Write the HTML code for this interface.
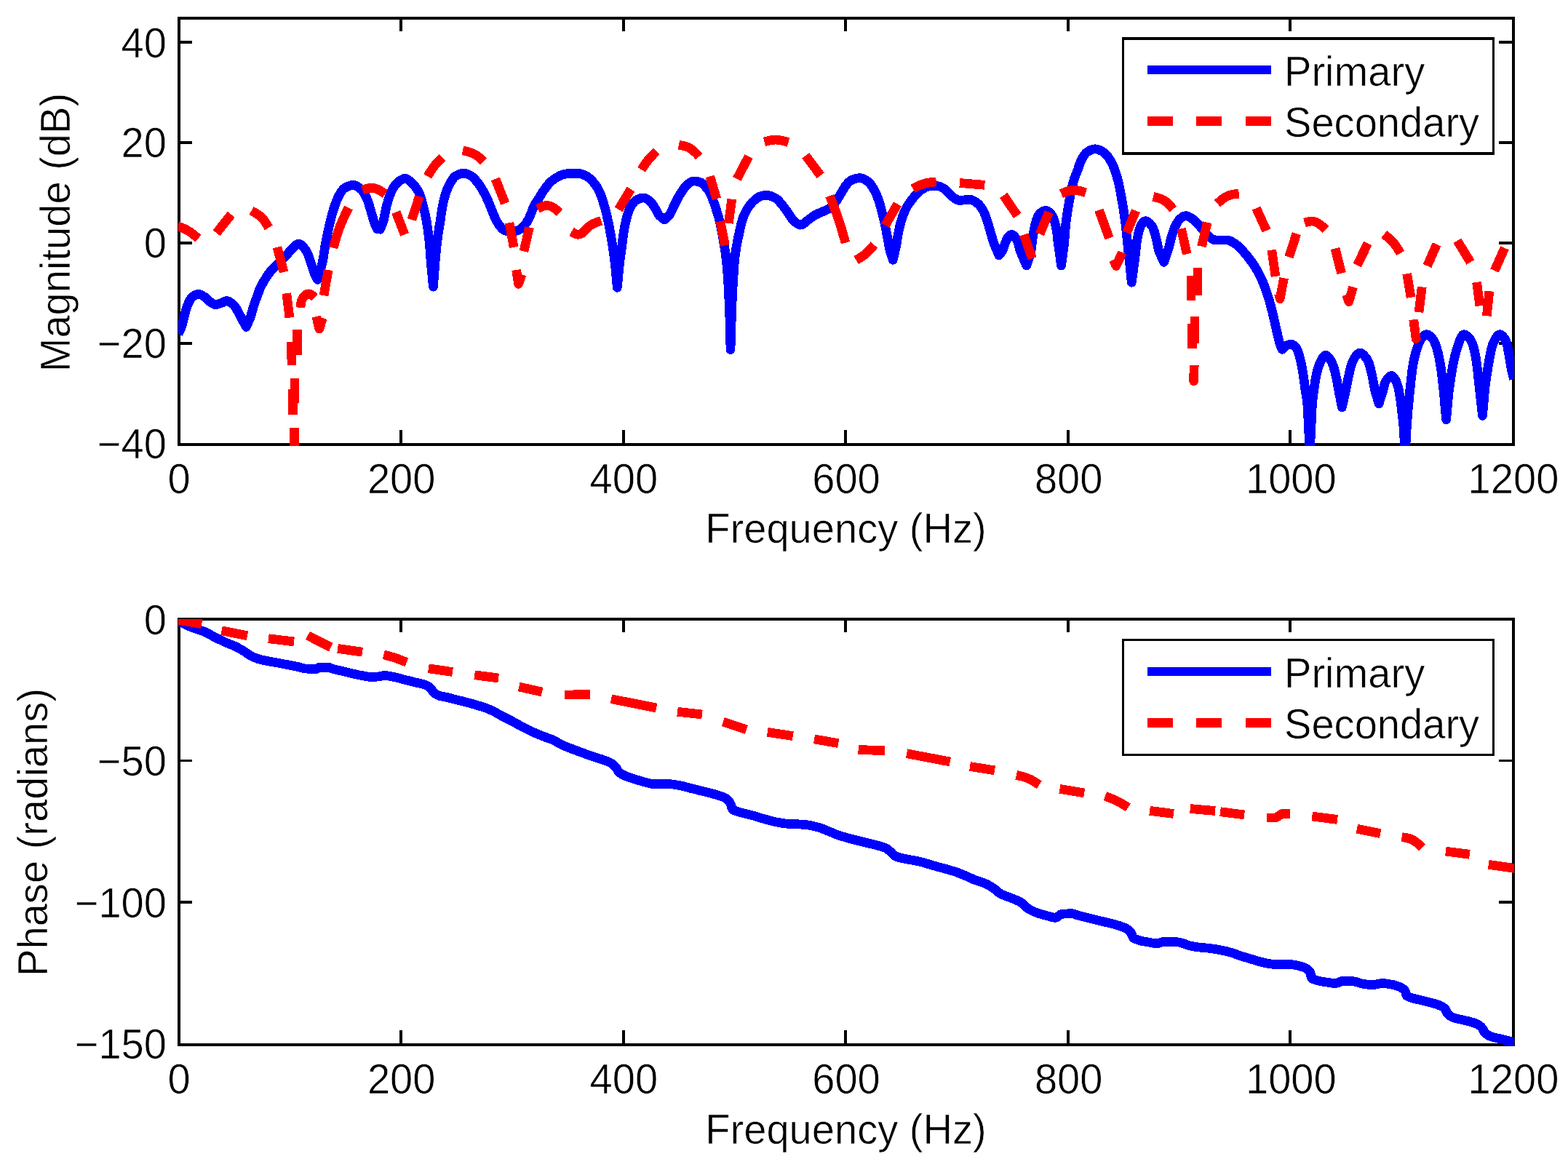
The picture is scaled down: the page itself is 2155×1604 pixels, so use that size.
<!DOCTYPE html>
<html lang="en"><head><meta charset="utf-8"><title>Frequency response: magnitude and phase</title>
<style>
html,body{margin:0;padding:0;background:#fff;}
body{width:2155px;height:1604px;overflow:hidden;}
svg{display:block;}
svg text{stroke:#fff;stroke-width:0.6px;}
</style></head><body>
<svg width="2155" height="1604" viewBox="0 0 2155 1604" font-family="'Liberation Sans', Arial, Helvetica, sans-serif" font-size="56.1" fill="#000">
<rect width="2155" height="1604" fill="#fff"/>
<g id="top">
<g shape-rendering="crispEdges" fill="#000"><rect x="244" y="23" width="4" height="590"/><rect x="2078" y="23" width="4" height="590"/><rect x="244" y="23" width="1838" height="4"/><rect x="244" y="609" width="1838" height="4"/><rect x="549" y="591" width="4" height="20"/><rect x="549" y="25" width="4" height="18"/><rect x="855" y="591" width="4" height="20"/><rect x="855" y="25" width="4" height="18"/><rect x="1160" y="591" width="4" height="20"/><rect x="1160" y="25" width="4" height="18"/><rect x="1466" y="591" width="4" height="20"/><rect x="1466" y="25" width="4" height="18"/><rect x="1771" y="591" width="4" height="20"/><rect x="1771" y="25" width="4" height="18"/><rect x="246" y="56" width="18" height="4"/><rect x="2060" y="56" width="20" height="4"/><rect x="246" y="194" width="18" height="4"/><rect x="2060" y="194" width="20" height="4"/><rect x="246" y="332" width="18" height="4"/><rect x="2060" y="332" width="20" height="4"/><rect x="246" y="470" width="18" height="4"/><rect x="2060" y="470" width="20" height="4"/></g>
<text transform="translate(246.00 678.40) scale(1 1.035)" text-anchor="middle">0</text>
<text transform="translate(551.67 678.40) scale(1 1.035)" text-anchor="middle">200</text>
<text transform="translate(857.33 678.40) scale(1 1.035)" text-anchor="middle">400</text>
<text transform="translate(1163.00 678.40) scale(1 1.035)" text-anchor="middle">600</text>
<text transform="translate(1468.67 678.40) scale(1 1.035)" text-anchor="middle">800</text>
<text transform="translate(1774.33 678.40) scale(1 1.035)" text-anchor="middle">1000</text>
<text transform="translate(2080.00 678.40) scale(1 1.035)" text-anchor="middle">1200</text>
<text transform="translate(229.00 78.50) scale(1 1.035)" text-anchor="end">40</text>
<text transform="translate(229.00 216.40) scale(1 1.035)" text-anchor="end">20</text>
<text transform="translate(229.00 354.30) scale(1 1.035)" text-anchor="end">0</text>
<text transform="translate(229.00 492.20) scale(1 1.035)" text-anchor="end">−20</text>
<text transform="translate(229.00 630.10) scale(1 1.035)" text-anchor="end">−40</text>
<text transform="translate(1162.50 746.20) scale(1 1.035)" text-anchor="middle">Frequency (Hz)</text>
<text transform="translate(95.60 319.60) rotate(-90) scale(1 1.035)" text-anchor="middle">Magnitude (dB)</text>
<clipPath id="c1"><rect x="245" y="24" width="1836" height="589"/></clipPath>
<g clip-path="url(#c1)" fill="none" stroke-linejoin="round" shape-rendering="crispEdges">
<path d="M245 459L245.7 457.7L246.4 456.3L247.1 455L247.8 453.6L248.4 452.2L248.9 450.8L249.5 449.4L249.9 448L250.4 446.6L250.8 445.1L251.1 443.6L251.5 442.2L251.8 440.7L252.2 439.2L252.5 437.7L252.9 436.3L253.2 434.8L253.6 433.3L253.9 431.9L254.3 430.4L254.7 429L255.1 427.5L255.5 426.1L256 424.6L256.5 423.2L256.9 421.7L257.5 420.3L258 418.9L258.6 417.5L259.2 416.2L259.9 414.8L260.6 413.3L261.4 412L262.2 410.6L263.1 409.4L264.1 408.4L265.1 407.5L266.3 406.7L267.7 405.8L269.2 405.1L270.7 404.6L272.1 404.3L273.5 404.4L274.9 404.7L276.3 405.3L277.8 406L279.1 406.9L280.5 407.7L281.7 408.5L282.9 409.4L284 410.4L285.1 411.5L286.1 412.6L287.3 413.7L288.4 414.6L289.7 415.4L290.9 416.3L292.3 417.2L293.7 418L295 418.5L296.4 418.6L297.9 418.4L299.3 418.1L300.8 417.6L302.3 417.1L303.8 416.6L305.2 416.1L306.6 415.4L308 414.7L309.4 414.1L310.8 413.7L312.2 413.7L313.7 414.1L315.1 414.7L316.5 415.5L317.9 416.4L319.1 417.3L320.2 418.2L321.2 419.2L322.2 420.2L323 421.4L323.9 422.7L324.7 424.1L325.5 425.4L326.2 426.8L327 428.2L327.7 429.5L328.5 430.8L329.2 432.2L329.9 433.5L330.6 434.8L331.3 436.2L332 437.5L332.6 438.9L333.3 440.2L334 441.6L334.8 442.9L335.5 444.2L336.2 445.5L336.9 446.9L337.7 448.2L338.4 449.5L339 448.1L339.6 446.7L340.2 445.3L340.8 443.9L341.4 442.6L342 441.2L342.6 439.8L343.2 438.4L343.8 437L344.3 435.6L344.8 434.2L345.2 432.7L345.6 431.3L346 429.8L346.4 428.3L346.8 426.9L347.2 425.4L347.7 424L348.1 422.6L348.5 421.1L349 419.7L349.5 418.2L349.9 416.8L350.4 415.4L350.9 413.9L351.4 412.5L352 411.1L352.5 409.7L353 408.3L353.6 406.9L354.1 405.5L354.6 404L355.1 402.6L355.6 401.2L356.1 399.7L356.6 398.3L357.2 396.9L357.7 395.5L358.4 394.2L359 392.8L359.8 391.5L360.5 390.2L361.3 388.9L362 387.6L362.8 386.3L363.6 385L364.4 383.7L365.2 382.4L366 381.1L366.8 379.8L367.6 378.6L368.5 377.3L369.4 376.1L370.3 374.9L371.2 373.7L372.2 372.6L373.2 371.5L374.2 370.4L375.3 369.3L376.3 368.2L377.4 367.1L378.5 366.1L379.6 365L380.7 363.9L381.7 362.9L382.8 361.8L383.9 360.7L384.9 359.7L386 358.6L387.1 357.5L388.1 356.5L389.2 355.4L390.3 354.3L391.3 353.3L392.4 352.2L393.4 351.1L394.4 350L395.4 348.8L396.4 347.7L397.4 346.5L398.4 345.3L399.4 344.2L400.4 343.1L401.4 342L402.5 341L403.7 339.9L404.9 338.7L406.1 337.6L407.4 336.5L408.6 335.7L409.8 335.3L411 335.3L412.2 335.6L413.5 336.3L414.7 337.3L415.9 338.4L417.1 339.7L418.2 341.1L419.2 342.4L420.1 343.8L420.9 345L421.6 346.2L422.3 347.5L422.9 348.8L423.5 350.2L424 351.6L424.5 353.1L425 354.5L425.5 356L426 357.5L426.5 359L427 360.5L427.4 361.9L428 363.4L428.5 364.8L428.9 366.2L429.4 367.7L429.8 369.1L430.3 370.6L430.8 372L431.2 373.4L431.7 374.9L432.3 376.3L432.8 377.6L433.5 379L434.2 380.3L435 381.6L435.7 383L436.4 384.3L436.8 382.9L437.2 381.4L437.7 380L438.1 378.5L438.5 377.1L438.9 375.7L439.4 374.2L439.8 372.8L440.2 371.3L440.6 369.9L441 368.4L441.5 367L441.9 365.6L442.3 364.1L442.7 362.7L443 361.2L443.4 359.7L443.6 358.3L443.9 356.8L444.2 355.3L444.4 353.9L444.7 352.4L444.9 350.9L445.1 349.4L445.3 347.9L445.6 346.4L445.8 344.9L446 343.5L446.2 342L446.4 340.5L446.7 339L446.9 337.5L447.2 336L447.5 334.6L447.7 333.1L448 331.6L448.3 330.1L448.6 328.7L448.9 327.2L449.2 325.7L449.5 324.2L449.8 322.8L450.1 321.3L450.4 319.8L450.7 318.4L451 316.9L451.4 315.4L451.7 314L452 312.5L452.3 311L452.7 309.6L453 308.1L453.4 306.7L453.7 305.2L454.1 303.7L454.4 302.3L454.8 300.8L455.1 299.4L455.5 297.9L455.9 296.5L456.3 295L456.7 293.6L457.1 292.1L457.5 290.7L458 289.2L458.4 287.8L458.9 286.4L459.4 284.9L459.8 283.5L460.3 282.1L460.9 280.7L461.4 279.3L461.9 277.9L462.5 276.5L463 275.1L463.6 273.7L464.2 272.3L464.8 270.9L465.5 269.5L466.2 268.2L466.9 266.9L467.6 265.6L468.4 264.4L469.3 263.1L470.2 261.8L471.2 260.6L472.3 259.5L473.4 258.7L474.6 258L475.9 257.2L477.3 256.6L478.7 255.9L480.2 255.4L481.7 254.9L483.2 254.6L484.7 254.4L486 254.4L487.5 254.7L488.9 255.2L490.3 255.9L491.7 256.7L493 257.7L494.3 258.6L495.5 259.6L496.5 260.5L497.5 261.5L498.4 262.6L499.3 263.8L500.2 265.1L501 266.5L501.7 267.8L502.4 269.2L503.1 270.6L503.7 272L504.3 273.4L504.9 274.7L505.4 276.1L505.9 277.5L506.4 278.9L506.9 280.4L507.3 281.8L507.7 283.2L508.2 284.7L508.6 286.2L509 287.6L509.4 289.1L509.9 290.5L510.3 292L510.7 293.4L511.2 294.8L511.6 296.3L512 297.7L512.4 299.2L512.8 300.6L513.3 302.1L513.7 303.5L514.1 304.9L514.6 306.4L515.1 307.8L515.7 309.1L516.3 310.5L516.9 311.9L517.6 313.2L518.2 314.6L522.6 315.2L523.1 313.8L523.7 312.4L524.2 311L524.7 309.6L525.3 308.2L525.8 306.8L526.4 305.4L526.9 304L527.3 302.5L527.6 301.1L528 299.6L528.3 298.2L528.6 296.7L528.8 295.2L529.1 293.7L529.4 292.3L529.7 290.8L529.9 289.3L530.2 287.8L530.5 286.3L530.8 284.9L531.2 283.4L531.6 282L532 280.5L532.4 279.1L532.8 277.6L533.2 276.2L533.7 274.7L534.1 273.3L534.6 271.9L535.1 270.5L535.6 269.1L536.2 267.7L536.7 266.3L537.3 264.8L537.9 263.4L538.6 262L539.2 260.7L539.9 259.3L540.6 258L541.4 256.8L542.2 255.6L543.1 254.4L544 253.2L545.1 252.1L546.2 251L547.3 250L548.5 249.1L549.7 248.3L551.1 247.5L552.5 246.7L553.9 246L555.3 245.5L556.7 245.3L558 245.5L559.3 246L560.6 246.8L561.9 247.8L563.1 248.9L564.3 250L565.4 251.1L566.5 252.1L567.6 253.1L568.6 254.2L569.6 255.3L570.6 256.5L571.5 257.8L572.4 259L573.3 260.3L574.1 261.6L574.8 262.9L575.5 264.2L576.1 265.5L576.6 266.8L577.2 268.2L577.7 269.6L578.2 271.1L578.6 272.5L579.1 274L579.5 275.4L579.9 276.9L580.3 278.4L580.7 279.8L581.1 281.3L581.5 282.7L581.8 284.2L582.2 285.6L582.6 287.1L582.9 288.5L583.3 290L583.6 291.5L583.9 292.9L584.2 294.4L584.6 295.9L584.9 297.4L585.2 298.8L585.4 300.3L585.7 301.8L586 303.3L586.3 304.7L586.5 306.2L586.7 307.7L587 309.2L587.2 310.6L587.4 312.1L587.7 313.6L587.9 315.1L588.1 316.6L588.3 318.1L588.5 319.6L588.7 321.1L588.9 322.5L589.1 324L589.2 325.5L589.4 327L589.6 328.5L589.8 330L589.9 331.5L590.1 333L590.2 334.5L590.4 336L590.5 337.5L590.6 339L590.7 340.5L590.9 342L591 343.5L591.1 345L591.2 346.4L591.3 347.9L591.4 349.4L591.5 350.9L591.6 352.4L591.7 353.9L591.9 355.4L592 356.9L592.1 358.4L592.2 359.9L592.3 361.4L592.5 362.9L592.6 364.4L592.7 365.9L592.9 367.4L593 368.9L593.2 370.4L593.3 371.9L593.4 373.4L593.6 374.9L593.7 376.4L593.9 377.9L594 379.4L594.1 380.8L594.3 382.3L594.4 383.8L594.6 385.3L594.7 386.8L594.8 388.3L595 389.8L595.1 391.3L595.3 392.8L595.4 394.3L595.5 392.8L595.6 391.3L595.7 389.8L595.9 388.3L596 386.8L596.1 385.3L596.2 383.8L596.3 382.3L596.4 380.8L596.6 379.3L596.7 377.8L596.8 376.3L596.9 374.8L597 373.3L597.1 371.8L597.3 370.3L597.4 368.8L597.5 367.3L597.6 365.8L597.7 364.3L597.9 362.8L598 361.4L598.1 359.9L598.2 358.4L598.3 356.9L598.5 355.4L598.6 353.9L598.7 352.4L598.8 350.9L599 349.4L599.1 347.9L599.3 346.4L599.4 344.9L599.6 343.4L599.7 341.9L599.9 340.4L600 338.9L600.2 337.4L600.4 335.9L600.5 334.4L600.7 332.9L600.9 331.4L601.1 330L601.3 328.5L601.4 327L601.6 325.5L601.8 324L602 322.5L602.3 321L602.5 319.5L602.7 318.1L603 316.6L603.2 315.1L603.5 313.6L603.7 312.1L603.9 310.6L604.2 309.2L604.4 307.7L604.7 306.2L604.9 304.7L605.2 303.2L605.4 301.7L605.6 300.3L605.8 298.8L606 297.3L606.2 295.8L606.4 294.3L606.7 292.8L606.9 291.3L607.1 289.8L607.3 288.4L607.6 286.9L607.9 285.4L608.1 283.9L608.4 282.5L608.7 281L609 279.5L609.3 278L609.7 276.6L610 275.1L610.4 273.6L610.8 272.2L611.2 270.7L611.6 269.3L612 267.9L612.5 266.4L612.9 265L613.4 263.6L613.9 262.2L614.4 260.8L615 259.3L615.6 257.9L616.2 256.6L616.8 255.2L617.5 253.8L618.2 252.5L618.9 251.2L619.7 249.9L620.5 248.6L621.4 247.2L622.3 245.9L623.2 244.7L624.2 243.5L625.3 242.6L626.4 241.8L627.6 241.1L628.9 240.5L630.3 239.8L631.8 239.3L633.3 238.8L634.9 238.5L636.4 238.2L637.8 238.2L639.3 238.4L640.7 238.7L642.2 239.2L643.7 239.8L645.1 240.5L646.4 241.2L647.6 241.9L648.8 242.7L650 243.6L651.1 244.7L652.1 245.8L653.2 247L654.2 248.2L655.1 249.4L656.1 250.5L657 251.7L657.9 252.9L658.7 254.1L659.6 255.4L660.4 256.7L661.2 257.9L662 259.2L662.8 260.5L663.5 261.8L664.3 263.1L665 264.4L665.7 265.7L666.4 267.1L667.1 268.4L667.8 269.8L668.5 271.1L669.1 272.5L669.7 273.8L670.4 275.2L671 276.6L671.6 277.9L672.2 279.3L672.7 280.7L673.3 282.1L673.8 283.5L674.4 284.9L674.9 286.3L675.5 287.7L676 289.1L676.6 290.5L677.2 291.9L677.7 293.3L678.3 294.7L678.9 296.1L679.5 297.5L680.1 298.8L680.7 300.2L681.3 301.6L682 302.9L682.7 304.2L683.5 305.5L684.3 306.8L685.1 308.1L686 309.3L686.9 310.5L687.8 311.7L688.8 312.8L689.9 314L691 315.1L692.2 316.1L693.4 316.7L694.7 317L696.2 317.4L697.7 317.7L699.2 317.9L700.8 318.1L702.3 318.2L703.8 318.2L705.3 318.1L706.8 317.9L708.3 317.5L709.8 317.2L711.2 316.7L712.6 316.3L713.9 315.6L715.1 314.8L716.4 313.9L717.6 312.8L718.7 311.8L719.8 310.8L720.8 309.7L721.8 308.5L722.7 307.3L723.6 306.1L724.4 304.8L725.1 303.5L725.8 302.2L726.5 300.9L727.2 299.5L727.8 298.1L728.4 296.8L729 295.4L729.6 294L730.2 292.6L730.7 291.2L731.2 289.8L731.8 288.4L732.3 287L732.9 285.6L733.5 284.2L734.2 282.9L734.9 281.6L735.6 280.3L736.4 279L737.3 277.7L738.1 276.5L738.9 275.2L739.7 273.9L740.5 272.7L741.3 271.4L742 270.1L742.8 268.8L743.6 267.5L744.4 266.2L745.2 265L746 263.7L746.9 262.5L747.7 261.2L748.6 260L749.5 258.8L750.4 257.5L751.3 256.3L752.2 255.1L753.1 253.9L754.1 252.8L755.1 251.7L756.1 250.6L757.2 249.6L758.3 248.6L759.5 247.7L760.7 246.8L761.9 245.9L763.2 245L764.5 244.2L765.8 243.5L767.1 242.8L768.4 242.1L769.8 241.4L771.2 240.8L772.6 240.2L774 239.8L775.5 239.5L776.9 239.2L778.4 238.9L779.9 238.7L781.4 238.5L782.9 238.3L784.4 238.2L785.9 238.2L787.4 238.2L788.9 238.2L790.5 238.2L792 238.2L793.5 238.2L794.9 238.2L796.4 238.4L797.9 238.8L799.4 239.2L800.8 239.7L802.3 240.3L803.6 241L805 241.6L806.2 242.2L807.5 243L808.7 243.9L809.9 244.9L811.1 245.9L812.2 247L813.3 248.1L814.3 249.2L815.3 250.3L816.2 251.4L817.2 252.6L818.1 253.8L819 255L819.8 256.3L820.6 257.6L821.4 258.9L822.2 260.2L822.9 261.5L823.5 262.9L824.1 264.2L824.7 265.6L825.3 266.9L825.8 268.3L826.4 269.8L826.9 271.2L827.3 272.6L827.8 274.1L828.3 275.5L828.7 277L829.2 278.4L829.6 279.8L830 281.3L830.4 282.7L830.9 284.1L831.3 285.6L831.7 287L832.1 288.5L832.4 289.9L832.8 291.4L833.2 292.9L833.5 294.3L833.9 295.8L834.2 297.2L834.6 298.7L834.9 300.2L835.2 301.6L835.6 303.1L835.9 304.6L836.2 306L836.5 307.5L836.8 309L837.1 310.5L837.3 311.9L837.6 313.4L837.9 314.9L838.2 316.4L838.5 317.8L838.7 319.3L839 320.8L839.3 322.3L839.5 323.8L839.8 325.2L840 326.7L840.3 328.2L840.5 329.7L840.8 331.2L841 332.6L841.3 334.1L841.5 335.6L841.8 337.1L842 338.6L842.2 340.1L842.4 341.5L842.7 343L842.9 344.5L843.1 346L843.3 347.5L843.5 349L843.7 350.5L843.9 352L844.1 353.4L844.3 354.9L844.5 356.4L844.7 357.9L844.9 359.4L845 360.9L845.2 362.4L845.4 363.9L845.5 365.4L845.7 366.9L845.8 368.4L845.9 369.9L846.1 371.4L846.2 372.9L846.3 374.4L846.5 375.9L846.6 377.4L846.8 378.8L846.9 380.3L847 381.8L847.2 383.3L847.3 384.8L847.5 386.3L847.6 387.8L847.7 389.3L847.9 390.8L848 392.3L848.2 393.8L848.3 395.3L848.4 393.8L848.6 392.3L848.7 390.8L848.9 389.3L849 387.8L849.2 386.3L849.3 384.8L849.5 383.3L849.6 381.8L849.8 380.3L849.9 378.8L850 377.3L850.2 375.8L850.3 374.3L850.5 372.8L850.6 371.3L850.8 369.8L850.9 368.3L851 366.8L851.2 365.3L851.3 363.8L851.5 362.3L851.7 360.8L851.9 359.3L852 357.8L852.2 356.3L852.4 354.8L852.6 353.3L852.8 351.8L853.1 350.3L853.3 348.8L853.5 347.3L853.7 345.8L853.9 344.3L854.1 342.8L854.3 341.3L854.5 339.8L854.7 338.3L854.9 336.8L855.1 335.3L855.3 333.8L855.4 332.3L855.6 330.8L855.8 329.3L856 327.8L856.2 326.3L856.4 324.9L856.6 323.4L856.9 321.9L857.1 320.4L857.3 318.9L857.6 317.4L857.8 315.9L858.1 314.4L858.3 312.9L858.6 311.4L858.9 309.9L859.2 308.5L859.5 307L859.8 305.5L860.1 304L860.5 302.6L860.8 301.1L861.2 299.6L861.6 298.2L862 296.7L862.4 295.3L862.9 293.8L863.3 292.3L863.9 290.9L864.4 289.5L865 288.1L865.6 286.7L866.2 285.3L866.9 284L867.6 282.8L868.4 281.4L869.3 280.1L870.3 278.9L871.3 277.7L872.4 276.6L873.5 275.7L874.7 275L876 274.3L877.4 273.6L878.9 273L880.4 272.5L881.9 272.1L883.3 271.9L884.7 272L886.2 272.3L887.6 272.9L889 273.6L890.4 274.4L891.7 275.4L892.9 276.3L894 277.2L895 278.2L896 279.3L896.9 280.5L897.7 281.8L898.5 283.2L899.3 284.5L900.1 285.9L900.9 287.1L901.7 288.5L902.4 289.9L903 291.2L903.7 292.6L904.5 294L905.3 295.2L906.1 296.3L907.3 297.3L908.5 298.2L909.7 299.2L910.8 300.1L912 301.1L913.2 302L914.3 300.9L915.3 299.9L916.4 298.8L917.5 297.8L918.6 296.7L919.7 295.7L920.6 294.6L921.4 293.3L922.1 292L922.8 290.7L923.4 289.3L924 287.9L924.6 286.5L925.3 285.1L925.9 283.8L926.6 282.4L927.2 281.1L927.9 279.7L928.6 278.3L929.2 277L929.9 275.6L930.6 274.3L931.3 273L932 271.7L932.8 270.4L933.5 269.1L934.3 267.8L935.1 266.5L935.9 265.2L936.7 263.9L937.5 262.7L938.4 261.5L939.2 260.2L940.1 259L941 257.7L942 256.5L942.9 255.3L944 254.2L945 253.3L946.2 252.4L947.4 251.6L948.8 250.7L950.2 250L951.6 249.4L953.1 249.1L954.5 249L956 249.1L957.6 249.3L959.1 249.7L960.6 250L962 250.5L963.3 250.9L964.5 251.6L965.7 252.5L966.9 253.6L968 254.7L969 255.9L970.1 257.1L971 258.3L971.9 259.4L972.8 260.6L973.7 261.8L974.5 263.1L975.3 264.4L976.1 265.8L976.8 267.1L977.4 268.5L978 269.8L978.5 271.2L979 272.6L979.5 274.1L979.9 275.5L980.4 276.9L981 278.3L981.7 279.7L982.3 281.1L982.8 282.5L983.3 283.9L983.7 285.3L984.1 286.8L984.4 288.2L984.8 289.7L985.2 291.2L985.7 292.6L986.1 294L986.6 295.5L987 296.9L987.5 298.3L987.9 299.8L988.3 301.2L988.7 302.7L989 304.1L989.4 305.6L989.7 307.1L990 308.5L990.4 310L990.7 311.5L991 312.9L991.3 314.4L991.6 315.9L991.9 317.4L992.1 318.8L992.4 320.3L992.7 321.8L992.9 323.3L993.2 324.7L993.5 326.2L993.7 327.7L994 329.2L994.2 330.7L994.5 332.2L994.7 333.6L995 335.1L995.2 336.6L995.5 338.1L995.7 339.6L996 341.1L996.2 342.5L996.4 344L996.7 345.5L996.9 347L997.1 348.5L997.3 350L997.5 351.5L997.7 352.9L997.9 354.4L998.1 355.9L998.3 357.4L998.4 358.9L998.6 360.4L998.7 361.9L998.9 363.4L999 364.9L999.1 366.4L999.3 367.9L999.4 369.4L999.5 370.9L999.6 372.4L999.7 373.9L999.8 375.4L999.9 376.9L1000 378.4L1000.1 379.9L1000.2 381.4L1000.3 382.9L1000.4 384.4L1000.5 385.9L1000.6 387.4L1000.7 388.9L1000.8 390.4L1000.9 391.9L1000.9 393.4L1001 394.9L1001.1 396.4L1001.2 397.9L1001.3 399.4L1001.3 400.9L1001.4 402.4L1001.5 403.9L1001.6 405.4L1001.6 406.9L1001.7 408.4L1001.8 409.9L1001.9 411.4L1001.9 412.9L1002 414.4L1002.1 415.9L1002.1 417.4L1002.2 418.9L1002.3 420.4L1002.3 421.9L1002.4 423.4L1002.4 424.9L1002.5 426.4L1002.6 427.9L1002.6 429.4L1002.7 430.9L1002.7 432.4L1002.8 433.9L1002.8 435.4L1002.9 436.9L1002.9 438.4L1003 439.9L1003 441.4L1003.1 442.9L1003.1 444.4L1003.2 445.9L1003.2 447.4L1003.3 448.9L1003.3 450.5L1003.3 452L1003.4 453.5L1003.4 455L1003.5 456.5L1003.5 458L1003.5 459.5L1003.6 461L1003.6 462.5L1003.6 464L1003.7 465.5L1003.7 467L1003.7 468.5L1003.8 470L1003.8 471.5L1003.8 473L1003.9 474.5L1003.9 476L1003.9 477.5L1004 479L1004 480.5L1004 479L1004.1 477.5L1004.1 476L1004.2 474.5L1004.2 473L1004.3 471.5L1004.3 470L1004.4 468.5L1004.4 467L1004.5 465.5L1004.5 464L1004.6 462.5L1004.6 461L1004.7 459.5L1004.7 458L1004.8 456.5L1004.8 455L1004.9 453.5L1004.9 452L1004.9 450.5L1005 448.9L1005 447.4L1005.1 445.9L1005.1 444.4L1005.1 442.9L1005.2 441.4L1005.2 439.9L1005.3 438.4L1005.3 436.9L1005.4 435.4L1005.4 433.9L1005.5 432.4L1005.5 430.9L1005.6 429.4L1005.6 427.9L1005.7 426.4L1005.7 424.9L1005.8 423.4L1005.8 421.9L1005.9 420.4L1006 418.9L1006 417.4L1006.1 415.9L1006.1 414.4L1006.2 412.9L1006.3 411.4L1006.3 409.9L1006.4 408.4L1006.5 406.9L1006.5 405.4L1006.6 403.9L1006.7 402.4L1006.8 400.9L1006.8 399.4L1006.9 397.9L1007 396.4L1007.1 394.9L1007.2 393.4L1007.2 391.9L1007.3 390.4L1007.4 388.9L1007.5 387.4L1007.6 385.9L1007.7 384.4L1007.8 382.9L1007.9 381.4L1008 379.9L1008.1 378.4L1008.2 376.9L1008.3 375.4L1008.4 373.9L1008.5 372.4L1008.6 370.9L1008.7 369.4L1008.8 367.9L1008.9 366.4L1009 364.9L1009.1 363.4L1009.3 361.9L1009.4 360.4L1009.5 358.9L1009.7 357.4L1009.8 355.9L1009.9 354.4L1010.1 352.9L1010.3 351.4L1010.4 349.9L1010.6 348.4L1010.8 346.9L1011.1 345.5L1011.3 344L1011.5 342.5L1011.8 341L1012 339.5L1012.3 338L1012.6 336.6L1012.9 335.1L1013.1 333.6L1013.4 332.1L1013.7 330.6L1014 329.2L1014.3 327.7L1014.6 326.2L1014.9 324.7L1015.3 323.3L1015.6 321.8L1015.9 320.3L1016.2 318.9L1016.5 317.4L1016.8 315.9L1017.1 314.4L1017.5 312.9L1017.8 311.5L1018.1 310L1018.5 308.5L1018.9 307.1L1019.3 305.6L1019.7 304.2L1020.1 302.8L1020.6 301.3L1021 299.9L1021.5 298.5L1022.1 297.1L1022.7 295.7L1023.3 294.4L1023.9 293L1024.6 291.6L1025.3 290.3L1026.1 289L1026.8 287.6L1027.6 286.4L1028.4 285.1L1029.2 283.9L1030.1 282.7L1031 281.5L1032 280.3L1033 279.1L1034 278L1035.1 276.9L1036.1 275.9L1037.2 274.9L1038.4 273.9L1039.6 273L1040.9 272L1042.1 271.2L1043.4 270.5L1044.8 269.9L1046.2 269.5L1047.6 269L1049.1 268.7L1050.6 268.4L1052.1 268.2L1053.6 268.2L1055.1 268.4L1056.6 268.6L1058.1 269L1059.6 269.5L1061 270.1L1062.5 270.7L1063.8 271.3L1065.1 271.9L1066.3 272.6L1067.5 273.5L1068.6 274.4L1069.7 275.5L1070.7 276.6L1071.8 277.8L1072.8 279L1073.8 280.2L1074.8 281.4L1075.7 282.5L1076.7 283.7L1077.6 284.9L1078.5 286.1L1079.4 287.3L1080.2 288.5L1081.1 289.8L1082 291L1082.9 292.2L1083.7 293.4L1084.6 294.7L1085.4 296L1086.2 297.3L1087.1 298.6L1087.9 299.8L1088.8 301L1089.8 302.1L1090.8 303.2L1091.9 304.2L1093.1 305.3L1094.4 306.4L1095.7 307.4L1097 308.2L1098.4 308.8L1099.7 309.2L1100.9 309.1L1102.2 308.8L1103.5 308.1L1104.8 307.2L1106 306.2L1107.3 305.1L1108.6 304.1L1109.8 303.1L1111 302.2L1112.2 301.3L1113.4 300.4L1114.6 299.4L1115.8 298.5L1117 297.6L1118.2 296.8L1119.5 296L1120.8 295.3L1122.2 294.6L1123.5 294L1124.9 293.4L1126.3 292.7L1127.6 292.1L1129 291.5L1130.4 291L1131.8 290.4L1133.2 289.8L1134.6 289.2L1135.9 288.5L1137.3 287.8L1138.6 287.1L1139.9 286.3L1141.2 285.5L1142.4 284.6L1143.4 283.7L1144.5 282.6L1145.5 281.5L1146.4 280.3L1147.3 279.1L1148.2 277.8L1149.1 276.6L1150 275.4L1150.8 274.1L1151.6 272.9L1152.4 271.6L1153.2 270.3L1154 269L1154.8 267.7L1155.5 266.4L1156.3 265.1L1157.1 263.8L1157.9 262.5L1158.6 261.2L1159.4 259.9L1160.1 258.6L1160.9 257.3L1161.7 256L1162.6 254.8L1163.5 253.7L1164.5 252.5L1165.5 251.4L1166.6 250.2L1167.8 249.2L1169 248.3L1170.2 247.6L1171.5 247L1172.9 246.5L1174.4 246L1175.9 245.6L1177.4 245.2L1178.9 244.9L1180.4 244.8L1181.8 244.7L1183.3 244.8L1184.8 245.2L1186.2 245.7L1187.7 246.4L1189.1 247.1L1190.4 247.9L1191.7 248.8L1192.9 249.6L1193.9 250.4L1195 251.4L1196 252.6L1196.9 253.8L1197.8 255L1198.7 256.4L1199.5 257.7L1200.3 259L1201 260.4L1201.8 261.6L1202.5 263L1203.1 264.3L1203.8 265.7L1204.4 267.1L1205 268.5L1205.6 269.9L1206.1 271.3L1206.6 272.7L1207.1 274.1L1207.6 275.5L1208.1 276.9L1208.5 278.4L1209 279.8L1209.4 281.2L1209.8 282.7L1210.2 284.1L1210.6 285.6L1211 287.1L1211.4 288.5L1211.8 290L1212.2 291.4L1212.5 292.9L1212.9 294.3L1213.3 295.8L1213.6 297.2L1214 298.7L1214.4 300.2L1214.7 301.6L1215 303.1L1215.4 304.6L1215.7 306L1216 307.5L1216.3 309L1216.6 310.4L1216.9 311.9L1217.2 313.4L1217.5 314.9L1217.8 316.3L1218 317.8L1218.3 319.3L1218.6 320.8L1218.9 322.2L1219.2 323.7L1219.5 325.2L1219.8 326.7L1220 328.1L1220.3 329.6L1220.6 331.1L1220.9 332.6L1221.1 334.1L1221.4 335.6L1221.7 337L1221.9 338.5L1222.2 340L1222.5 341.5L1222.9 342.9L1223.2 344.4L1223.6 345.8L1224 347.3L1224.4 348.7L1224.9 350.1L1225.4 351.6L1225.8 353L1226.3 354.4L1226.7 355.9L1227.2 357.3L1227.5 355.8L1227.9 354.4L1228.2 352.9L1228.6 351.4L1228.9 350L1229.3 348.5L1229.6 347L1229.9 345.6L1230.3 344.1L1230.6 342.7L1231 341.2L1231.3 339.7L1231.6 338.3L1231.9 336.8L1232.1 335.3L1232.4 333.8L1232.6 332.3L1232.9 330.8L1233.1 329.4L1233.3 327.9L1233.6 326.4L1233.8 324.9L1234.1 323.4L1234.3 321.9L1234.6 320.5L1234.9 319L1235.2 317.5L1235.5 316L1235.8 314.6L1236.1 313.1L1236.5 311.6L1236.8 310.2L1237.2 308.7L1237.6 307.2L1238 305.8L1238.4 304.3L1238.8 302.9L1239.2 301.5L1239.7 300L1240.1 298.6L1240.6 297.2L1241.2 295.8L1241.7 294.4L1242.3 293L1242.9 291.6L1243.5 290.2L1244.1 288.8L1244.8 287.5L1245.4 286.2L1246.2 284.8L1246.9 283.5L1247.7 282.2L1248.5 281L1249.3 279.7L1250.2 278.5L1251.1 277.2L1251.9 276L1252.8 274.8L1253.8 273.6L1254.7 272.4L1255.7 271.3L1256.7 270.1L1257.7 269L1258.7 267.9L1259.7 266.8L1260.8 265.8L1261.9 264.7L1263 263.7L1264.1 262.7L1265.3 261.7L1266.5 260.8L1267.7 259.9L1269 259.2L1270.3 258.5L1271.7 257.7L1273.1 257.1L1274.5 256.5L1275.9 256.1L1277.4 255.8L1278.8 255.7L1280.3 255.5L1281.9 255.4L1283.4 255.3L1284.9 255.2L1286.4 255.2L1287.8 255.4L1289.3 255.8L1290.8 256.2L1292.3 256.7L1293.7 257.3L1295.1 257.9L1296.4 258.6L1297.6 259.2L1298.8 260.1L1299.9 261.1L1301 262.2L1302.1 263.3L1303.1 264.4L1304.2 265.6L1305.3 266.6L1306.4 267.7L1307.5 268.8L1308.6 269.8L1309.7 270.9L1310.8 271.8L1312 272.7L1313.3 273.4L1314.7 274.2L1316.1 274.9L1317.5 275.4L1318.9 275.5L1320.4 275.4L1321.9 275.3L1323.4 275.1L1324.9 274.9L1326.5 274.7L1328 274.5L1329.5 274.3L1331 274.2L1332.4 274.2L1333.8 274.3L1335.3 274.7L1336.7 275.3L1338.2 276L1339.6 276.8L1340.9 277.7L1342.1 278.6L1343.3 279.4L1344.4 280.3L1345.4 281.3L1346.4 282.4L1347.4 283.6L1348.3 284.9L1349.2 286.2L1350.1 287.5L1350.8 288.8L1351.6 290.1L1352.2 291.5L1352.8 292.8L1353.4 294.2L1354 295.6L1354.5 297L1355 298.4L1355.5 299.8L1355.9 301.3L1356.4 302.7L1356.9 304.2L1357.3 305.6L1357.8 307.1L1358.2 308.5L1358.7 309.9L1359.1 311.4L1359.5 312.8L1359.9 314.3L1360.4 315.7L1360.8 317.2L1361.2 318.6L1361.6 320L1362 321.5L1362.5 322.9L1362.9 324.4L1363.3 325.8L1363.7 327.3L1364.1 328.7L1364.5 330.2L1365 331.6L1365.5 333L1366 334.4L1366.5 335.8L1367.1 337.2L1367.7 338.6L1368.3 340L1368.9 341.4L1369.4 342.8L1370 344.2L1370.6 345.5L1371.2 346.9L1371.7 348.3L1372.3 349.7L1372.9 351.1L1373.8 349.9L1374.8 348.7L1375.7 347.5L1376.7 346.3L1377.4 345L1378.1 343.7L1378.7 342.3L1379.2 340.8L1379.8 339.4L1380.3 337.9L1380.8 336.5L1381.3 335L1381.8 333.6L1382.4 332.2L1383 330.7L1383.6 329.2L1384.2 327.7L1384.9 326.4L1385.7 325.3L1386.8 324.2L1388.3 323.2L1389.7 322.5L1390.9 322.4L1392 322.9L1393.2 323.7L1394.3 324.9L1395.3 326.3L1396.3 327.9L1397.1 329.4L1397.9 330.9L1398.5 332.2L1399 333.6L1399.5 335L1399.9 336.5L1400.3 338L1400.7 339.5L1401.1 341L1401.5 342.5L1401.9 344L1402.4 345.4L1402.9 346.9L1403.5 348.3L1404.2 349.7L1404.8 351.1L1405.4 352.5L1406 353.9L1406.6 355.3L1407.2 356.7L1407.8 358.1L1408.4 359.5L1409 360.9L1409.6 362.3L1410.2 363.7L1410.8 365.1L1411.3 363.7L1411.8 362.2L1412.2 360.8L1412.7 359.4L1413.2 357.9L1413.7 356.5L1414.1 355.1L1414.6 353.6L1415.1 352.2L1415.7 350.8L1416.1 349.3L1416.5 347.9L1416.8 346.4L1417 344.9L1417.2 343.5L1417.4 342L1417.6 340.5L1417.8 339L1418 337.5L1418.1 335.9L1418.3 334.4L1418.5 332.9L1418.6 331.4L1418.8 329.9L1419 328.4L1419.3 326.9L1419.5 325.4L1419.7 323.9L1420 322.4L1420.2 320.9L1420.5 319.4L1420.8 317.9L1421 316.4L1421.3 314.9L1421.6 313.5L1421.9 312L1422.3 310.5L1422.6 309.1L1423 307.6L1423.4 306.2L1423.8 304.7L1424.3 303.2L1424.8 301.6L1425.4 300.1L1426 298.6L1426.6 297.2L1427.3 295.9L1428.1 294.7L1428.9 293.7L1429.9 292.8L1431.1 291.9L1432.6 291L1434.1 290.2L1435.6 289.7L1437 289.4L1438.3 289.5L1439.6 290L1440.9 290.8L1442.2 291.9L1443.4 293.1L1444.5 294.4L1445.4 295.7L1446.2 296.8L1446.8 298.1L1447.5 299.4L1448 300.7L1448.6 302.1L1449.1 303.6L1449.6 305.1L1450 306.6L1450.4 308.2L1450.8 309.7L1451.1 311.2L1451.4 312.7L1451.7 314.2L1451.9 315.6L1452.2 317.1L1452.4 318.6L1452.6 320.1L1452.8 321.6L1453 323.1L1453.2 324.6L1453.3 326.1L1453.5 327.6L1453.7 329.1L1453.8 330.7L1454 332.2L1454.2 333.7L1454.4 335.2L1454.6 336.7L1454.8 338.2L1455 339.7L1455.2 341.1L1455.4 342.6L1455.6 344.1L1455.8 345.6L1456.1 347.1L1456.3 348.6L1456.5 350.1L1456.7 351.6L1456.9 353.1L1457.1 354.6L1457.3 356.1L1457.5 357.6L1457.7 359.1L1457.9 360.6L1458.1 362.1L1458.3 363.6L1458.5 365.1L1458.7 363.6L1458.9 362.1L1459.1 360.6L1459.3 359.1L1459.5 357.6L1459.7 356.2L1460 354.7L1460.2 353.2L1460.4 351.7L1460.6 350.2L1460.8 348.7L1461 347.2L1461.2 345.7L1461.4 344.2L1461.7 342.7L1461.9 341.2L1462 339.8L1462.2 338.3L1462.4 336.8L1462.5 335.3L1462.6 333.8L1462.8 332.3L1462.9 330.8L1463 329.3L1463.1 327.8L1463.3 326.3L1463.4 324.8L1463.5 323.3L1463.6 321.8L1463.7 320.3L1463.8 318.7L1463.9 317.2L1464.1 315.7L1464.2 314.2L1464.3 312.7L1464.5 311.3L1464.6 309.8L1464.8 308.3L1465 306.8L1465.1 305.3L1465.3 303.8L1465.5 302.3L1465.7 300.8L1465.9 299.3L1466.1 297.8L1466.3 296.3L1466.6 294.8L1466.8 293.3L1467 291.8L1467.2 290.4L1467.5 288.9L1467.7 287.4L1467.9 285.9L1468.2 284.4L1468.4 282.9L1468.7 281.4L1468.9 280L1469.2 278.5L1469.5 277L1469.7 275.5L1470 274L1470.3 272.6L1470.6 271.1L1470.8 269.6L1471.1 268.1L1471.4 266.6L1471.7 265.1L1472 263.7L1472.3 262.2L1472.6 260.7L1472.9 259.2L1473.3 257.8L1473.6 256.3L1473.9 254.8L1474.3 253.4L1474.7 251.9L1475 250.5L1475.4 249L1475.9 247.6L1476.3 246.1L1476.8 244.7L1477.3 243.3L1477.8 241.9L1478.4 240.5L1479 239.1L1479.6 237.7L1480.1 236.3L1480.7 234.9L1481.2 233.5L1481.7 232.1L1482.2 230.6L1482.6 229.2L1483.1 227.7L1483.6 226.3L1484.1 224.9L1484.6 223.5L1485.2 222.1L1485.8 220.8L1486.5 219.4L1487.2 218L1488 216.6L1488.8 215.2L1489.6 213.9L1490.5 212.6L1491.5 211.5L1492.5 210.4L1493.5 209.5L1494.6 208.7L1495.9 207.9L1497.2 207.2L1498.6 206.4L1500.1 205.8L1501.6 205.3L1503.1 205L1504.6 204.8L1506 204.9L1507.5 205.1L1508.9 205.5L1510.4 206L1511.9 206.7L1513.3 207.3L1514.7 208L1515.9 208.8L1517.1 209.5L1518.2 210.4L1519.3 211.5L1520.4 212.6L1521.4 213.8L1522.4 215L1523.3 216.3L1524.2 217.5L1525 218.8L1525.8 220L1526.5 221.3L1527.2 222.6L1527.9 224L1528.6 225.4L1529.2 226.7L1529.9 228.1L1530.5 229.5L1531 230.9L1531.6 232.3L1532.1 233.7L1532.6 235.1L1533.1 236.6L1533.6 238L1534 239.4L1534.5 240.9L1534.9 242.3L1535.3 243.8L1535.7 245.2L1536.1 246.7L1536.5 248.1L1536.9 249.6L1537.2 251.1L1537.6 252.5L1537.9 254L1538.2 255.5L1538.5 256.9L1538.8 258.4L1539.1 259.9L1539.4 261.4L1539.7 262.8L1540 264.3L1540.2 265.8L1540.5 267.3L1540.8 268.8L1541 270.3L1541.3 271.7L1541.6 273.2L1541.8 274.7L1542.1 276.2L1542.4 277.7L1542.6 279.2L1542.9 280.6L1543.1 282.1L1543.4 283.6L1543.6 285.1L1543.8 286.6L1544.1 288.1L1544.3 289.6L1544.5 291L1544.7 292.5L1545 294L1545.2 295.5L1545.4 297L1545.6 298.5L1545.8 300L1546 301.5L1546.2 303L1546.4 304.5L1546.6 306L1546.8 307.5L1547 308.9L1547.2 310.4L1547.4 311.9L1547.5 313.4L1547.7 314.9L1547.9 316.4L1548 317.9L1548.2 319.4L1548.3 320.9L1548.5 322.4L1548.6 323.9L1548.7 325.4L1548.9 326.9L1549 328.4L1549.2 329.9L1549.3 331.4L1549.5 332.9L1549.6 334.4L1549.8 335.9L1549.9 337.4L1550.1 338.9L1550.2 340.4L1550.4 341.9L1550.5 343.4L1550.7 344.9L1550.9 346.4L1551 347.9L1551.2 349.4L1551.3 350.9L1551.5 352.4L1551.6 353.9L1551.8 355.4L1552 356.9L1552.1 358.4L1552.3 359.9L1552.4 361.4L1552.6 362.8L1552.8 364.3L1552.9 365.8L1553.1 367.3L1553.2 368.8L1553.4 370.3L1553.6 371.8L1553.7 373.3L1553.9 374.8L1554 376.3L1554.2 377.8L1554.3 379.3L1554.5 380.8L1554.7 382.3L1554.8 383.8L1555 385.3L1555.1 386.8L1555.3 388.3L1555.5 386.8L1555.7 385.3L1555.9 383.8L1556.1 382.3L1556.3 380.8L1556.5 379.3L1556.7 377.8L1556.9 376.3L1557.1 374.9L1557.3 373.4L1557.5 371.9L1557.7 370.4L1557.9 368.9L1558.1 367.4L1558.3 365.9L1558.5 364.4L1558.7 362.9L1558.9 361.4L1559.1 359.9L1559.3 358.4L1559.5 356.9L1559.7 355.4L1559.9 353.9L1560.1 352.4L1560.2 350.9L1560.4 349.4L1560.6 347.9L1560.7 346.4L1560.9 344.9L1561.1 343.4L1561.2 341.9L1561.4 340.4L1561.6 338.9L1561.7 337.4L1561.9 335.9L1562.1 334.4L1562.3 332.9L1562.6 331.5L1562.8 330L1563 328.5L1563.3 327L1563.6 325.5L1563.9 324L1564.2 322.5L1564.5 320.9L1564.9 319.4L1565.2 317.9L1565.6 316.4L1566.1 314.9L1566.6 313.5L1567.1 312.2L1567.6 310.9L1568.2 309.6L1569 308.3L1570 306.9L1571.2 305.5L1572.4 304.4L1573.6 303.8L1574.7 303.6L1575.9 303.9L1577.2 304.6L1578.5 305.6L1579.8 306.7L1581 308L1582.1 309.3L1583 310.6L1583.8 311.8L1584.4 313L1585 314.3L1585.5 315.6L1586 317.1L1586.5 318.5L1586.9 320L1587.4 321.5L1587.8 323.1L1588.2 324.6L1588.5 326.1L1588.9 327.6L1589.3 329L1589.7 330.5L1590 332L1590.3 333.5L1590.6 334.9L1590.9 336.4L1591.2 337.9L1591.5 339.4L1591.8 340.9L1592.2 342.4L1592.5 343.8L1592.9 345.2L1593.4 346.7L1594 348L1594.6 349.4L1595.3 350.8L1595.9 352.2L1596.5 353.5L1597.1 354.9L1597.7 356.3L1598.4 357.7L1599 359L1599.6 360.4L1600.1 359L1600.6 357.6L1601.1 356.1L1601.6 354.7L1602.1 353.3L1602.5 351.9L1603 350.5L1603.5 349.1L1604 347.6L1604.5 346.2L1605 344.8L1605.5 343.4L1606 342L1606.4 340.5L1606.8 339.1L1607.1 337.6L1607.5 336.2L1607.8 334.7L1608.1 333.2L1608.5 331.8L1608.8 330.3L1609.2 328.8L1609.5 327.4L1609.9 325.9L1610.4 324.5L1610.8 323.1L1611.2 321.6L1611.7 320.2L1612.2 318.7L1612.7 317.3L1613.2 315.9L1613.7 314.5L1614.3 313.1L1614.8 311.7L1615.5 310.4L1616.1 309.1L1616.8 307.7L1617.6 306.4L1618.5 305L1619.3 303.7L1620.3 302.5L1621.3 301.4L1622.3 300.4L1623.4 299.6L1624.7 298.7L1626 297.8L1627.5 297.1L1628.9 296.7L1630.3 296.6L1631.6 296.9L1633 297.4L1634.4 298.1L1635.8 298.9L1637.1 299.8L1638.4 300.7L1639.6 301.5L1640.8 302.4L1641.9 303.4L1643 304.4L1644.1 305.5L1645.1 306.6L1646.1 307.8L1647.1 308.9L1648.1 310L1649.1 311.1L1650.1 312.3L1651.1 313.4L1652 314.6L1653 315.8L1653.9 316.9L1654.9 318.1L1655.9 319.2L1656.9 320.3L1657.9 321.5L1658.9 322.6L1659.9 323.8L1661 324.8L1662.1 325.8L1663.2 326.7L1664.5 327.5L1665.8 328.3L1667.2 329.1L1668.6 329.6L1670.1 329.9L1671.5 329.9L1673 329.9L1674.5 329.9L1676 329.9L1677.5 329.9L1679.1 329.9L1680.6 329.9L1682.1 329.9L1683.6 329.9L1685.1 329.9L1686.5 329.9L1688 330.2L1689.4 330.6L1690.9 331.2L1692.3 331.9L1693.6 332.6L1694.9 333.4L1696.2 334.1L1697.4 334.9L1698.6 335.8L1699.8 336.7L1700.9 337.7L1702 338.8L1703.1 339.9L1704.2 340.9L1705.3 342L1706.3 343.1L1707.4 344.1L1708.4 345.2L1709.4 346.3L1710.4 347.5L1711.4 348.6L1712.4 349.8L1713.3 350.9L1714.3 352.1L1715.2 353.3L1716.1 354.4L1717 355.6L1717.9 356.8L1718.8 358.1L1719.7 359.3L1720.6 360.5L1721.4 361.7L1722.3 363L1723.1 364.2L1723.9 365.5L1724.7 366.8L1725.5 368L1726.3 369.3L1727 370.6L1727.8 371.9L1728.5 373.2L1729.3 374.5L1730 375.9L1730.7 377.2L1731.4 378.5L1732.1 379.9L1732.7 381.2L1733.3 382.6L1734 383.9L1734.6 385.3L1735.2 386.7L1735.7 388L1736.3 389.4L1736.9 390.8L1737.4 392.2L1737.9 393.6L1738.5 395.1L1739 396.5L1739.5 397.9L1740 399.3L1740.5 400.7L1741 402.1L1741.4 403.6L1741.9 405L1742.4 406.4L1742.8 407.8L1743.3 409.3L1743.7 410.7L1744.1 412.1L1744.6 413.6L1745 415L1745.4 416.5L1745.8 417.9L1746.2 419.4L1746.6 420.8L1747 422.3L1747.4 423.7L1747.7 425.2L1748.1 426.6L1748.5 428.1L1748.8 429.5L1749.2 431L1749.5 432.5L1749.9 433.9L1750.2 435.4L1750.6 436.8L1750.9 438.3L1751.2 439.8L1751.6 441.2L1751.9 442.7L1752.2 444.1L1752.5 445.6L1752.9 447.1L1753.2 448.5L1753.5 450L1753.9 451.5L1754.2 452.9L1754.5 454.4L1754.9 455.9L1755.2 457.3L1755.6 458.8L1755.9 460.2L1756.2 461.7L1756.5 463.2L1756.9 464.7L1757.2 466.1L1757.6 467.6L1758 469L1758.4 470.5L1758.8 471.9L1759.2 473.3L1759.8 474.7L1760.3 476.1L1760.9 477.5L1761.4 478.9L1762 480.3L1763.1 479.3L1764.3 478.3L1765.4 477.3L1766.5 476.3L1767.6 475.2L1768.9 474.6L1770.4 474.1L1771.9 473.7L1773.4 473.4L1774.8 473.3L1776.2 473.6L1777.5 474.3L1778.9 475.3L1780.1 476.5L1781.1 477.7L1782 478.9L1782.6 480.1L1783.3 481.4L1783.8 482.7L1784.3 484.1L1784.8 485.6L1785.2 487.1L1785.7 488.6L1786.1 490.2L1786.4 491.7L1786.8 493.2L1787.2 494.7L1787.5 496.1L1787.9 497.6L1788.2 499.1L1788.5 500.5L1788.8 502L1789.1 503.5L1789.4 505L1789.6 506.5L1789.9 507.9L1790.2 509.4L1790.4 510.9L1790.7 512.4L1790.9 513.9L1791.1 515.4L1791.4 516.9L1791.6 518.4L1791.8 519.9L1792 521.3L1792.2 522.8L1792.4 524.3L1792.6 525.8L1792.8 527.3L1793 528.8L1793.2 530.3L1793.4 531.8L1793.6 533.3L1793.8 534.8L1794 536.3L1794.2 537.8L1794.5 539.3L1794.7 540.8L1795 542.2L1795.2 543.7L1795.4 545.2L1795.7 546.7L1795.9 548.2L1796.1 549.7L1796.3 551.2L1796.5 552.7L1796.6 554.2L1796.8 555.7L1796.9 557.2L1797 558.7L1797.1 560.2L1797.2 561.7L1797.3 563.2L1797.4 564.7L1797.4 566.2L1797.5 567.7L1797.6 569.2L1797.7 570.7L1797.7 572.2L1797.8 573.7L1797.9 575.2L1797.9 576.7L1798 578.2L1798 579.8L1798.1 581.3L1798.2 582.8L1798.2 584.3L1798.3 585.8L1798.4 587.3L1798.4 588.8L1798.5 590.3L1798.6 591.8L1798.7 593.3L1798.8 594.8L1798.9 596.3L1798.9 597.8L1799 599.3L1799.1 600.8L1799.2 602.3L1799.3 603.8L1799.3 605.4L1799.4 606.9L1799.5 608.4L1799.5 609.9L1799.6 611.4L1799.6 612.9L1799.6 614.4L1799.7 615.9L1799.7 617.4L1799.7 618.9L1799.8 620.4L1799.8 621.9L1799.8 623.4L1799.9 624.9L1799.9 626.4L1799.9 627.9L1800 629.5L1800 631L1800 632.5L1800.1 634L1800.1 635.5L1800.1 637L1800.2 638.5L1800.2 640L1800.2 638.5L1800.3 637L1800.3 635.5L1800.3 634L1800.4 632.5L1800.4 631L1800.4 629.5L1800.5 628L1800.5 626.5L1800.5 624.9L1800.6 623.4L1800.6 621.9L1800.6 620.4L1800.7 618.9L1800.7 617.4L1800.7 615.9L1800.8 614.4L1800.8 612.9L1800.8 611.4L1800.9 609.9L1800.9 608.4L1801 606.9L1801.1 605.4L1801.1 603.9L1801.2 602.4L1801.3 600.9L1801.3 599.4L1801.4 597.9L1801.5 596.4L1801.6 594.9L1801.6 593.4L1801.7 591.8L1801.8 590.3L1801.9 588.8L1801.9 587.3L1802 585.8L1802.1 584.3L1802.1 582.8L1802.2 581.3L1802.3 579.8L1802.3 578.3L1802.4 576.8L1802.4 575.3L1802.5 573.8L1802.6 572.3L1802.7 570.8L1802.7 569.3L1802.8 567.8L1802.9 566.3L1803 564.8L1803 563.3L1803.1 561.8L1803.2 560.3L1803.3 558.8L1803.4 557.3L1803.5 555.8L1803.6 554.3L1803.8 552.8L1803.9 551.3L1804.1 549.8L1804.2 548.3L1804.4 546.8L1804.6 545.3L1804.8 543.8L1805 542.3L1805.2 540.8L1805.4 539.3L1805.6 537.8L1805.8 536.3L1806 534.8L1806.2 533.3L1806.4 531.8L1806.6 530.3L1806.8 528.9L1807 527.4L1807.2 525.9L1807.5 524.4L1807.7 522.9L1808 521.4L1808.2 519.9L1808.5 518.5L1808.8 517L1809.1 515.5L1809.4 514L1809.8 512.5L1810.1 511L1810.5 509.6L1810.9 508.1L1811.3 506.6L1811.8 505.2L1812.3 503.8L1812.8 502.4L1813.3 501L1813.9 499.6L1814.6 498L1815.3 496.4L1816.2 494.7L1817 493.1L1818 491.7L1818.9 490.4L1819.8 489.3L1820.8 488.6L1821.7 488.2L1822.7 488.3L1823.7 488.8L1824.7 489.7L1825.8 490.9L1826.9 492.3L1828 493.8L1828.9 495.3L1829.8 496.8L1830.5 498.2L1831.1 499.5L1831.6 500.8L1832.1 502.2L1832.6 503.6L1833.1 505L1833.5 506.5L1833.9 508L1834.3 509.4L1834.7 510.9L1835 512.4L1835.4 514L1835.7 515.5L1836 516.9L1836.4 518.4L1836.7 519.9L1837 521.4L1837.3 522.8L1837.6 524.3L1837.9 525.8L1838.1 527.3L1838.4 528.7L1838.7 530.2L1838.9 531.7L1839.2 533.2L1839.5 534.7L1839.8 536.2L1840 537.6L1840.3 539.1L1840.6 540.6L1840.9 542.1L1841.2 543.5L1841.5 545L1841.8 546.5L1842.1 548L1842.4 549.5L1842.7 550.9L1842.9 552.4L1843.2 553.9L1843.5 555.4L1843.8 556.8L1844.1 558.3L1844.4 559.8L1844.7 558.3L1845.1 556.9L1845.4 555.4L1845.7 553.9L1846 552.5L1846.4 551L1846.7 549.5L1847 548L1847.4 546.6L1847.7 545.1L1848 543.6L1848.3 542.2L1848.7 540.7L1849 539.2L1849.3 537.8L1849.6 536.3L1849.9 534.8L1850.2 533.3L1850.5 531.8L1850.8 530.4L1851.1 528.9L1851.4 527.4L1851.7 525.9L1851.9 524.4L1852.2 523L1852.5 521.5L1852.8 520L1853.1 518.5L1853.5 517.1L1853.8 515.6L1854.2 514.1L1854.5 512.7L1854.8 511.1L1855.2 509.6L1855.5 508.1L1855.9 506.6L1856.3 505.1L1856.7 503.6L1857.1 502.2L1857.5 500.7L1858 499.3L1858.5 498L1859.1 496.6L1859.7 495.4L1860.4 494L1861.2 492.6L1862.1 491.1L1863.2 489.6L1864.3 488.3L1865.4 487.1L1866.6 486.1L1867.7 485.4L1868.8 485.1L1869.9 485.2L1871 485.7L1872.2 486.4L1873.5 487.4L1874.7 488.6L1875.9 489.9L1877 491.2L1878.1 492.6L1879 494L1879.7 495.3L1880.3 496.5L1880.9 497.8L1881.4 499.2L1881.9 500.5L1882.3 502L1882.7 503.4L1883.1 504.9L1883.5 506.4L1883.9 508L1884.2 509.5L1884.5 511L1884.9 512.5L1885.2 514L1885.6 515.5L1885.9 517L1886.2 518.5L1886.5 519.9L1886.8 521.4L1887.1 522.9L1887.3 524.4L1887.6 525.9L1887.9 527.3L1888.1 528.8L1888.4 530.3L1888.7 531.8L1889 533.3L1889.3 534.7L1889.6 536.2L1890 537.7L1890.4 539.1L1890.8 540.6L1891.3 542L1891.7 543.4L1892.1 544.9L1892.5 546.3L1893 547.8L1893.4 549.2L1893.8 550.7L1894.2 552.1L1894.7 553.6L1895.1 555L1895.5 553.6L1896 552.1L1896.4 550.7L1896.9 549.2L1897.3 547.8L1897.8 546.3L1898.2 544.9L1898.7 543.5L1899.1 542L1899.6 540.6L1900 539.1L1900.5 537.7L1900.9 536.2L1901.2 534.7L1901.6 533.1L1902 531.6L1902.3 530.1L1902.8 528.7L1903.2 527.2L1903.7 525.9L1904.3 524.6L1905 523.3L1905.9 521.9L1907 520.5L1908.1 519.1L1909.4 517.9L1910.5 517L1911.7 516.5L1912.7 516.4L1913.7 516.9L1914.8 517.8L1915.8 519L1916.8 520.5L1917.8 522.1L1918.6 523.7L1919.3 525.2L1919.8 526.5L1920.3 527.9L1920.7 529.3L1921.1 530.7L1921.5 532.2L1921.9 533.6L1922.2 535.1L1922.5 536.7L1922.8 538.2L1923.1 539.7L1923.3 541.2L1923.6 542.7L1923.8 544.2L1924.1 545.7L1924.3 547.2L1924.5 548.7L1924.8 550.2L1925 551.7L1925.2 553.2L1925.4 554.7L1925.6 556.2L1925.8 557.7L1926 559.2L1926.1 560.7L1926.3 562.2L1926.5 563.7L1926.7 565.2L1926.8 566.7L1927 568.2L1927.2 569.7L1927.4 571.2L1927.5 572.7L1927.7 574.2L1927.9 575.7L1928 577.2L1928.2 578.7L1928.3 580.2L1928.5 581.7L1928.6 583.2L1928.7 584.7L1928.9 586.2L1929 587.8L1929.1 589.3L1929.2 590.8L1929.3 592.3L1929.4 593.8L1929.5 595.3L1929.6 596.8L1929.7 598.3L1929.7 599.8L1929.8 601.3L1929.9 602.8L1930 604.3L1930.1 605.9L1930.1 607.4L1930.2 608.9L1930.3 610.4L1930.4 611.9L1930.4 613.4L1930.5 614.9L1930.6 616.4L1930.6 617.9L1930.7 619.4L1930.8 620.9L1930.9 622.5L1930.9 624L1931 625.5L1931.1 627L1931.1 628.5L1931.2 630L1931.3 628.5L1931.3 627L1931.4 625.5L1931.4 624L1931.5 622.5L1931.6 621L1931.6 619.5L1931.7 618L1931.7 616.5L1931.8 615L1931.9 613.4L1931.9 611.9L1932 610.4L1932.1 608.9L1932.2 607.4L1932.2 605.9L1932.3 604.4L1932.4 602.9L1932.5 601.4L1932.6 599.9L1932.7 598.4L1932.7 596.9L1932.8 595.4L1932.9 593.9L1933 592.4L1933.1 590.9L1933.2 589.4L1933.3 587.9L1933.4 586.4L1933.5 584.9L1933.6 583.4L1933.7 581.9L1933.8 580.4L1933.9 578.9L1934 577.4L1934.1 575.9L1934.3 574.4L1934.4 572.9L1934.5 571.4L1934.6 569.9L1934.7 568.4L1934.8 566.9L1935 565.4L1935.1 563.9L1935.2 562.4L1935.3 560.9L1935.5 559.4L1935.6 557.9L1935.7 556.4L1935.9 554.9L1936 553.4L1936.2 551.9L1936.3 550.4L1936.4 548.9L1936.6 547.4L1936.7 545.9L1936.9 544.4L1937 542.9L1937.2 541.4L1937.4 539.9L1937.5 538.4L1937.7 536.9L1937.8 535.4L1938 533.9L1938.2 532.4L1938.3 530.9L1938.5 529.4L1938.7 527.9L1938.8 526.4L1939 524.9L1939.1 523.4L1939.3 521.9L1939.5 520.4L1939.6 518.9L1939.8 517.4L1940 515.9L1940.2 514.4L1940.3 512.9L1940.5 511.4L1940.7 509.9L1940.9 508.4L1941.1 506.9L1941.3 505.4L1941.6 504L1941.8 502.5L1942.1 501L1942.3 499.5L1942.6 498L1942.9 496.6L1943.2 495.1L1943.5 493.6L1943.8 492.1L1944.2 490.6L1944.6 489.2L1944.9 487.7L1945.3 486.3L1945.7 484.8L1946.2 483.4L1946.6 481.9L1947 480.5L1947.5 479.1L1948 477.6L1948.4 476.2L1948.9 474.7L1949.5 473.2L1950 471.8L1950.6 470.3L1951.3 468.9L1952 467.6L1952.7 466.4L1953.5 465.2L1954.4 464.1L1955.5 462.9L1956.8 461.7L1958.1 460.7L1959.4 460L1960.7 459.7L1961.9 459.9L1963.2 460.4L1964.5 461.3L1965.8 462.4L1967.1 463.6L1968.2 464.8L1969.1 466L1969.9 467.1L1970.7 468.4L1971.3 469.6L1972 471L1972.5 472.4L1973.1 473.9L1973.6 475.4L1974.1 476.9L1974.5 478.4L1975 479.8L1975.4 481.3L1975.8 482.7L1976.2 484.2L1976.5 485.6L1976.9 487.1L1977.2 488.6L1977.5 490L1977.8 491.5L1978.1 493L1978.4 494.5L1978.7 496L1978.9 497.5L1979.2 499L1979.5 500.4L1979.7 501.9L1979.9 503.4L1980.2 504.9L1980.4 506.4L1980.6 507.9L1980.8 509.4L1981 510.9L1981.2 512.4L1981.4 513.8L1981.6 515.3L1981.8 516.8L1982 518.3L1982.1 519.8L1982.3 521.3L1982.5 522.8L1982.7 524.3L1982.8 525.8L1983 527.3L1983.1 528.8L1983.3 530.3L1983.5 531.8L1983.6 533.3L1983.8 534.8L1983.9 536.3L1984 537.8L1984.2 539.3L1984.3 540.8L1984.5 542.3L1984.6 543.8L1984.8 545.3L1984.9 546.8L1985 548.3L1985.2 549.8L1985.3 551.3L1985.4 552.8L1985.6 554.3L1985.7 555.8L1985.8 557.3L1986 558.8L1986.1 560.3L1986.2 561.8L1986.4 563.3L1986.5 564.8L1986.7 566.3L1986.8 567.8L1986.9 569.3L1987.1 570.8L1987.2 572.3L1987.3 573.8L1987.5 575.3L1987.6 576.8L1987.7 575.3L1987.9 573.8L1988 572.3L1988.1 570.8L1988.3 569.3L1988.4 567.8L1988.5 566.3L1988.7 564.8L1988.8 563.3L1989 561.8L1989.1 560.3L1989.2 558.8L1989.4 557.3L1989.5 555.8L1989.6 554.3L1989.8 552.8L1989.9 551.3L1990 549.8L1990.2 548.3L1990.3 546.8L1990.4 545.3L1990.6 543.8L1990.8 542.3L1990.9 540.8L1991.1 539.3L1991.3 537.8L1991.5 536.3L1991.7 534.8L1991.9 533.3L1992.1 531.8L1992.3 530.3L1992.5 528.9L1992.8 527.4L1993 525.9L1993.2 524.4L1993.4 522.9L1993.6 521.4L1993.9 519.9L1994.1 518.4L1994.3 516.9L1994.5 515.4L1994.8 513.9L1995 512.5L1995.3 511L1995.5 509.5L1995.8 508L1996 506.5L1996.3 505L1996.6 503.6L1996.8 502.1L1997.1 500.6L1997.4 499.1L1997.7 497.6L1998 496.2L1998.4 494.7L1998.7 493.2L1999 491.7L1999.4 490.2L1999.7 488.8L2000.1 487.3L2000.5 485.8L2000.9 484.4L2001.3 482.9L2001.7 481.5L2002.1 480.1L2002.6 478.7L2003.1 477.2L2003.6 475.7L2004.2 474L2004.7 472.2L2005.3 470.4L2006 468.7L2006.7 466.9L2007.3 465.3L2008.1 463.8L2008.8 462.5L2009.6 461.4L2010.4 460.5L2011.2 459.9L2012.1 459.7L2013.1 459.9L2014.2 460.4L2015.4 461.2L2016.8 462.3L2018.1 463.5L2019.3 464.9L2020.4 466.2L2021.3 467.5L2022 468.7L2022.6 469.9L2023.2 471.2L2023.7 472.6L2024.2 474L2024.7 475.5L2025.1 476.9L2025.5 478.5L2025.9 480L2026.3 481.5L2026.6 483.1L2026.9 484.6L2027.2 486.1L2027.5 487.5L2027.8 489L2028.1 490.5L2028.3 492L2028.6 493.4L2028.8 494.9L2029 496.4L2029.2 497.9L2029.5 499.4L2029.7 500.9L2029.8 502.4L2030 503.9L2030.2 505.4L2030.4 506.9L2030.6 508.4L2030.8 509.9L2030.9 511.4L2031.1 512.9L2031.3 514.4L2031.4 515.9L2031.6 517.4L2031.7 518.9L2031.9 520.4L2032 521.9L2032.2 523.4L2032.3 524.9L2032.5 526.4L2032.7 527.9L2032.8 529.4L2033 530.9L2033.1 532.4L2033.3 533.9L2033.5 535.4L2033.6 536.9L2033.8 538.4L2034 539.9L2034.1 541.4L2034.3 542.9L2034.5 544.4L2034.7 545.8L2034.8 547.3L2035 548.8L2035.2 550.3L2035.3 551.8L2035.5 553.3L2035.7 554.8L2035.8 556.3L2036 557.8L2036.2 559.3L2036.3 560.8L2036.5 562.3L2036.7 563.8L2036.8 565.3L2037 566.8L2037.2 568.3L2037.3 569.8L2037.5 571.3L2037.6 569.8L2037.8 568.3L2037.9 566.8L2038 565.3L2038.1 563.8L2038.3 562.3L2038.4 560.8L2038.5 559.3L2038.7 557.8L2038.8 556.3L2038.9 554.9L2039 553.4L2039.2 551.9L2039.3 550.4L2039.4 548.9L2039.5 547.4L2039.7 545.9L2039.8 544.4L2039.9 542.9L2040 541.4L2040.2 539.9L2040.3 538.4L2040.5 536.9L2040.6 535.4L2040.8 533.9L2041 532.4L2041.1 531L2041.3 529.5L2041.5 528L2041.7 526.5L2041.9 525L2042.2 523.5L2042.4 522L2042.6 520.5L2042.8 519.1L2043 517.6L2043.2 516.1L2043.5 514.6L2043.7 513.1L2043.9 511.6L2044.1 510.2L2044.4 508.7L2044.6 507.2L2044.8 505.7L2045.1 504.2L2045.3 502.7L2045.6 501.3L2045.8 499.8L2046.1 498.3L2046.4 496.8L2046.6 495.4L2046.9 493.9L2047.2 492.4L2047.5 490.9L2047.8 489.4L2048 487.9L2048.3 486.4L2048.6 484.9L2048.9 483.4L2049.2 481.9L2049.6 480.4L2049.9 478.9L2050.3 477.5L2050.7 476.1L2051.2 474.7L2051.6 473.3L2052.1 472L2052.7 470.6L2053.4 469L2054.2 467.4L2055.1 465.8L2056.1 464.3L2057.1 462.9L2058.1 461.7L2059.1 460.7L2060.2 460L2061.2 459.7L2062.2 459.8L2063.3 460.4L2064.5 461.4L2065.7 462.6L2066.8 464L2067.9 465.4L2068.7 466.8L2069.4 468.1L2069.9 469.4L2070.3 470.7L2070.7 472.1L2071.1 473.6L2071.5 475L2071.8 476.5L2072.1 478.1L2072.4 479.6L2072.7 481.1L2072.9 482.7L2073.2 484.2L2073.5 485.7L2073.8 487.2L2074 488.6L2074.3 490.1L2074.6 491.6L2074.8 493.1L2075 494.6L2075.3 496L2075.5 497.5L2075.7 499L2076 500.5L2076.2 502L2076.5 503.4L2076.8 504.9L2077.1 506.4L2077.4 507.9L2077.7 509.3L2078 510.8L2078.3 512.3L2078.7 513.7L2079 515.2L2079.4 516.6L2079.8 518.1L2080.1 519.5L2080.5 521" stroke="#00f" stroke-width="12.7"/>
<path d="M244 310.6L246.9 311.7L249.7 312.9L252.5 314.1L255.2 315.4L257.9 316.8L260.5 318.4L263 320.1L265.4 321.9L267.8 323.9L270.2 325.8L272.5 327.8M297.5 320.2L317.8 294.8M345.5 289.6L348.3 291.1L351 292.7L353.6 294.3L356.1 296.1L358.5 298L360.6 300.2L362.6 302.5L364.4 305L366.1 307.6L367.7 310.3L369.3 313M380.9 339.8L390.1 374M393.8 403.2L397.9 436.6M400.5 469.7L401 502.4M408.2 488.4L408.2 452.8M402.3 535.2L402.7 569.8M405.1 553.9L405.1 520.2M404.2 587.5L404.2 616M412.9 422.9L413.2 419.8L413.6 416.8L414.2 413.8L415.4 411L417 408.2L419.3 405.8L421.9 404.2L424.6 403.8L427.3 404.8L429.9 406.7L432.5 409M434.8 435L438.8 452L443.4 437M445 406.2L451.1 371M458.1 340.8L458.9 337.8L459.8 334.8L460.6 331.7L461.5 328.7L462.3 325.7L463.2 322.7L464.2 319.8L465.2 316.8L466.2 313.9L467.3 310.9L468.5 308.1L469.7 305.2L471 302.3L472.3 299.5L473.6 296.6L474.9 293.8L476.3 291L477.7 288.2L479.1 285.4M498.1 261.1L501.1 260.1L504.2 259.2L507.1 258.6L510.1 258.3L513 258.4L515.8 259L518.6 260L521.3 261.3L524 263L526.6 264.7L529.3 266.6M544.2 291.5L556.1 322.4M565.9 302L576.4 269.8M587.7 242.4L589.2 239.8L590.8 237.2L592.4 234.7L594 232.2L595.8 229.7L597.6 227.4L599.6 225.1L601.6 222.9L603.7 220.7L605.8 218.6L608 216.5M636 206.9L639.3 207.6L642.5 208.4L645.7 209.3L648.8 210.4L651.7 211.7L654.5 213.4L657.2 215.3L659.8 217.3L662.3 219.5L664.8 221.8M680.9 245.9L694.2 279.6M699.9 306.2L706.2 339.9M709.7 371L712.5 390.4L717.1 377.1M719.9 345.5L727.5 312.5M739.1 286.9L742 285.4L744.9 284L747.7 283L750.5 282.4L753.3 282.5L756 283.2L758.7 284.4L761.4 286L764 287.9L766.7 290L769.3 292.2M785.5 318.5L788.5 320.2L791.5 321.6L794.3 322.3L797 321.9L799.6 320.6L802 318.5L804.4 316.1L806.8 313.6L809.3 311.4L812 309.5L814.7 307.9L817.5 306.6L820.4 305.4L823.4 304.4L826.3 303.4M850.1 288L867 260M881.7 233.3L883.4 230.5L885.2 227.8L887 225.1L888.9 222.5L890.9 219.9L893 217.4L895.2 215L897.4 212.6L899.7 210.3L902 208M932.9 199.2L936.2 199.8L939.5 200.5L942.7 201.4L945.7 202.5L948.6 204L951.3 205.8L953.8 207.9L956.2 210.2L958.6 212.6L960.9 215.1M975.7 242.4L984.8 273.3M990 304.1L996.4 337.4M1001.3 306.9L1005.8 273.7M1012.8 245.9L1029 215.1M1050.5 194.9L1053.5 194.1L1056.5 193.3L1059.5 192.7L1062.5 192.3L1065.5 192.1L1068.5 192.2L1071.5 192.6L1074.5 193.2L1077.5 193.9L1080.5 194.7L1083.5 195.6M1107.3 213.8L1127.7 241.2M1140.3 269.2L1141.4 272.1L1142.6 275L1143.7 277.8L1144.8 280.7L1146 283.6L1147.1 286.5L1148.1 289.4L1149.2 292.3L1150.3 295.2L1151.3 298.1L1152.3 301.1L1153.3 304L1154.2 306.9L1155.1 309.9L1156 312.9L1156.9 315.8L1157.8 318.8L1158.6 321.8L1159.5 324.8L1160.3 327.7L1161.2 330.7L1162 333.7M1176.7 357.6L1179.5 355.9L1182.3 354.2L1185.1 352.4L1187.7 350.5L1190.2 348.5L1192.6 346.3L1194.9 344L1197.1 341.5L1199.2 339L1201.3 336.5M1216.7 309.9L1233.5 280.4M1254.6 259.4L1257.3 257.9L1260.1 256.5L1262.9 255.1L1265.7 253.9L1268.6 252.8L1271.5 252L1274.5 251.3L1277.5 250.8L1280.6 250.4L1283.7 250.2L1286.8 249.9M1318.9 251.5L1353.3 254.3M1379.2 268.4L1398.2 296.4M1407.3 322.4L1418.5 355.3M1429 321.7L1441.7 291.5M1458.5 266.3L1461.5 265L1464.5 263.8L1467.5 262.8L1470.6 262L1473.6 261.4L1476.7 261.3L1479.7 261.5L1482.8 262.1L1485.9 262.9L1489 263.8L1492.1 264.8M1510.4 288.7L1524.4 327.3M1530 357L1534 365.4L1542.4 346.9M1548.4 319.8L1561 289.6M1584.9 270.4L1587.9 271.1L1590.9 271.8L1593.8 272.7L1596.5 273.7L1599.2 275L1601.6 276.7L1603.9 278.5L1606.1 280.6L1608.2 282.8L1610.2 285.1L1612.2 287.5M1623.5 314.2L1631.2 349.2M1637.1 379.3L1637.1 412.9M1646 405.9L1646 368M1638.8 445.2L1638.8 478.8M1642 471.8L1642 435.1M1640 512.5L1640.6 523.7L1641.2 502M1651.5 338.7L1659.2 305.7M1673 279.8L1675.3 277.7L1677.7 275.6L1680 273.7L1682.5 271.9L1685.1 270.4L1687.8 269.1L1690.6 268.1L1693.5 267.4L1696.5 266.9L1699.6 266.5L1702.7 266.2M1726.5 286.1L1740.6 317M1747.8 343.6L1753 380M1757.5 404L1759.1 410.7L1764.6 382.2M1771.4 353.4L1781.9 321.2M1793 306.2L1796.2 305.2L1799.4 304.4L1802.6 304L1805.6 304.3L1808.5 305.2L1811.3 306.7L1814 308.5L1816.7 310.7L1819.4 313.1L1822 315.6M1835 341.6L1843.6 375.6M1850.5 405L1853.8 414.7L1859.6 394.4M1865.3 364.7L1879.8 334.4M1902.2 322.1L1904.7 324.1L1907.2 326L1909.6 328.1L1911.9 330.2L1914.1 332.5L1916.1 334.8L1918 337.3L1919.8 339.9L1921.5 342.6L1923.1 345.3L1924.7 348.1M1933.6 376.3L1939.1 408.9M1942.7 439.3L1946.1 465.6L1946.5 463.5M1950 429.1L1954.3 394.4M1961.5 365.5L1974.6 335.8M2002.8 330.8L2020.9 360.4M2029.5 387.9L2033.9 420.4M2043.3 434.2L2046.9 400.2M2054.1 372L2067.9 340.9" stroke="#f00" stroke-width="12.7"/>
</g>
</g>
<g id="bottom">
<g shape-rendering="crispEdges" fill="#000"><rect x="244" y="849" width="4" height="589"/><rect x="2078" y="849" width="4" height="589"/><rect x="244" y="849" width="1838" height="4"/><rect x="244" y="1434" width="1838" height="4"/><rect x="549" y="1416" width="4" height="20"/><rect x="549" y="851" width="4" height="18"/><rect x="855" y="1416" width="4" height="20"/><rect x="855" y="851" width="4" height="18"/><rect x="1160" y="1416" width="4" height="20"/><rect x="1160" y="851" width="4" height="18"/><rect x="1466" y="1416" width="4" height="20"/><rect x="1466" y="851" width="4" height="18"/><rect x="1771" y="1416" width="4" height="20"/><rect x="1771" y="851" width="4" height="18"/><rect x="246" y="1044" width="18" height="3"/><rect x="2060" y="1044" width="20" height="3"/><rect x="246" y="1238" width="18" height="4"/><rect x="2060" y="1238" width="20" height="4"/></g>
<text transform="translate(246.00 1503.40) scale(1 1.035)" text-anchor="middle">0</text>
<text transform="translate(551.67 1503.40) scale(1 1.035)" text-anchor="middle">200</text>
<text transform="translate(857.33 1503.40) scale(1 1.035)" text-anchor="middle">400</text>
<text transform="translate(1163.00 1503.40) scale(1 1.035)" text-anchor="middle">600</text>
<text transform="translate(1468.67 1503.40) scale(1 1.035)" text-anchor="middle">800</text>
<text transform="translate(1774.33 1503.40) scale(1 1.035)" text-anchor="middle">1000</text>
<text transform="translate(2080.00 1503.40) scale(1 1.035)" text-anchor="middle">1200</text>
<text transform="translate(229.00 871.50) scale(1 1.035)" text-anchor="end">0</text>
<text transform="translate(229.00 1066.05) scale(1 1.035)" text-anchor="end">−50</text>
<text transform="translate(229.00 1260.60) scale(1 1.035)" text-anchor="end">−100</text>
<text transform="translate(229.00 1455.15) scale(1 1.035)" text-anchor="end">−150</text>
<text transform="translate(1162.50 1571.50) scale(1 1.035)" text-anchor="middle">Frequency (Hz)</text>
<text transform="translate(65.00 1144.00) rotate(-90) scale(1 1.035)" text-anchor="middle">Phase (radians)</text>
<clipPath id="c2"><rect x="245" y="851" width="1836" height="587"/></clipPath>
<g clip-path="url(#c2)" fill="none" stroke-linejoin="round" shape-rendering="crispEdges">
<path d="M244 852.5L245.7 853.5L247.5 854.5L249.3 855.4L251 856.4L252.8 857.3L254.6 858.2L256.4 859L258.2 859.9L260 860.7L261.9 861.5L263.7 862.2L265.6 862.9L267.5 863.6L269.4 864.2L271.3 864.8L273.2 865.5L275.1 866.1L277 866.8L278.9 867.5L280.7 868.2L282.6 869L284.4 869.9L286.1 870.8L287.9 871.7L289.6 872.7L291.4 873.7L293.1 874.7L294.9 875.7L296.7 876.6L298.5 877.5L300.3 878.4L302.1 879.2L303.9 880.1L305.7 881L307.5 881.8L309.3 882.6L311.1 883.5L313 884.2L314.8 885L316.7 885.7L318.6 886.5L320.4 887.2L322.3 888L324.1 888.8L325.9 889.7L327.6 890.7L329.4 891.6L331.1 892.6L332.8 893.7L334.6 894.7L336.3 895.7L337.9 896.8L339.6 898L341.3 899.1L342.9 900.2L344.6 901.2L346.4 902.1L348.2 903L350 903.8L351.9 904.6L353.8 905.3L355.7 905.9L357.6 906.4L359.5 906.9L361.5 907.3L363.5 907.7L365.4 908.1L367.4 908.5L369.4 908.9L371.3 909.3L373.3 909.6L375.3 909.9L377.3 910.3L379.2 910.6L381.2 911L383.2 911.3L385.1 911.7L387.1 912.1L389.1 912.5L391 912.9L393 913.2L394.9 913.6L396.9 914L398.9 914.4L400.8 914.8L402.8 915.2L404.8 915.6L406.7 916L408.7 916.4L410.6 916.8L412.6 917.4L414.5 917.9L416.5 918.4L418.4 918.8L420.4 919L422.4 919.2L424.4 919.4L426.4 919.5L428.5 919.7L430.5 919.7L432.4 919.8L434.3 919.7L436.1 918.7L437.9 917.5L439.8 917.2L441.8 917.2L443.8 917.2L445.8 917.2L447.8 917.2L449.8 917.2L451.8 917.3L453.7 917.9L455.6 918.6L457.5 919.4L459.4 920L461.4 920.4L463.3 920.9L465.3 921.3L467.2 921.7L469.2 922.1L471.1 922.5L473.1 923L475 923.5L477 924L478.9 924.5L480.8 925L482.8 925.5L484.7 925.9L486.7 926.4L488.6 926.8L490.6 927.2L492.6 927.6L494.5 928L496.5 928.4L498.5 928.7L500.4 929.1L502.4 929.4L504.4 929.8L506.4 930.2L508.4 930.4L510.3 930.6L512.3 930.6L514.3 930.5L516.3 930.3L518.3 930.1L520.3 929.9L522.3 929.6L524.3 929.1L526.2 928.7L528.2 928.5L530.2 928.6L532.1 928.8L534.1 929.1L536.1 929.4L538.1 929.8L540.1 930.2L542 930.6L544 931L545.9 931.5L547.9 932L549.8 932.5L551.7 933L553.7 933.6L555.6 934.1L557.5 934.6L559.5 935.1L561.4 935.5L563.4 936L565.3 936.5L567.3 937L569.2 937.5L571.1 938L573.1 938.4L575.1 938.8L577.1 939.2L579 939.7L581 940.2L582.9 940.7L584.7 941.4L586.5 942.2L588.3 943.3L590 944.4L591.5 945.7L592.8 947.1L593.9 948.8L595.1 950.6L596.4 952L597.9 953.2L599.6 954.4L601.4 955.3L603.3 956.1L605.1 956.7L607.1 957.1L609.1 957.4L611.1 957.8L613 958.2L615 958.6L616.9 959.1L618.9 959.6L620.8 960.1L622.7 960.6L624.7 961.1L626.6 961.6L628.6 962.1L630.5 962.6L632.5 963L634.4 963.5L636.3 964L638.3 964.5L640.2 965L642.2 965.5L644.1 966L646 966.5L648 967.1L649.9 967.6L651.8 968.2L653.7 968.7L655.6 969.3L657.6 969.9L659.5 970.5L661.4 971L663.3 971.7L665.2 972.3L667.1 973L669 973.6L670.8 974.4L672.7 975.1L674.5 975.9L676.3 976.8L678.1 977.6L679.9 978.5L681.7 979.5L683.4 980.5L685.1 981.5L686.9 982.5L688.6 983.5L690.4 984.5L692.1 985.4L693.9 986.3L695.7 987.2L697.5 988L699.3 988.9L701.1 989.8L702.9 990.7L704.7 991.7L706.4 992.6L708.2 993.6L709.9 994.6L711.7 995.6L713.4 996.5L715.2 997.5L716.9 998.4L718.7 999.4L720.5 1000.3L722.2 1001.2L724 1002.1L725.8 1003L727.6 1003.9L729.4 1004.8L731.2 1005.6L733 1006.4L734.9 1007.3L736.7 1008L738.6 1008.8L740.4 1009.6L742.3 1010.3L744.1 1011.1L746 1011.8L747.9 1012.5L749.7 1013.2L751.6 1013.9L753.5 1014.6L755.4 1015.3L757.3 1016L759.1 1016.7L760.9 1017.6L762.7 1018.5L764.5 1019.4L766.2 1020.4L768 1021.4L769.7 1022.3L771.5 1023.3L773.3 1024.2L775.1 1025L776.9 1025.8L778.8 1026.5L780.7 1027.3L782.5 1028L784.4 1028.7L786.3 1029.4L788.1 1030.1L790 1030.8L791.9 1031.5L793.8 1032.2L795.6 1032.9L797.5 1033.6L799.4 1034.3L801.3 1035L803.2 1035.7L805 1036.4L806.9 1037L808.8 1037.7L810.7 1038.3L812.6 1039L814.5 1039.7L816.4 1040.3L818.3 1040.9L820.2 1041.5L822.1 1042.1L824 1042.7L825.9 1043.3L827.8 1044L829.7 1044.7L831.6 1045.3L833.5 1046.1L835.4 1046.8L837.2 1047.6L839 1048.5L840.7 1049.5L842.3 1050.6L843.9 1052L845.3 1053.4L846.7 1054.9L847.7 1056.5L848.6 1058.4L849.6 1060.1L850.9 1061.4L852.5 1062.7L854.2 1063.8L856 1064.8L857.9 1065.7L859.6 1066.6L861.5 1067.3L863.4 1068L865.3 1068.6L867.2 1069.2L869.1 1069.8L871 1070.4L873 1071L874.9 1071.7L876.8 1072.3L878.7 1072.9L880.6 1073.5L882.5 1074L884.4 1074.6L886.4 1075L888.3 1075.5L890.3 1076.1L892.2 1076.6L894.2 1077L896.2 1077.4L898.1 1077.7L900.1 1077.8L902.1 1077.8L904.1 1077.8L906.1 1077.8L908.1 1077.8L910.1 1077.8L912.1 1077.8L914.1 1077.8L916.1 1077.8L918.1 1077.8L920.1 1077.8L922.1 1077.8L924.1 1077.9L926.1 1078.2L928.1 1078.5L930.1 1078.9L932 1079.2L934 1079.6L936 1080L937.9 1080.4L939.9 1080.9L941.8 1081.4L943.7 1081.9L945.7 1082.5L947.6 1083L949.6 1083.5L951.5 1083.9L953.4 1084.4L955.4 1084.9L957.3 1085.4L959.3 1085.9L961.2 1086.4L963.1 1086.8L965.1 1087.3L967 1087.8L969 1088.3L970.9 1088.7L972.9 1089.2L974.8 1089.7L976.7 1090.2L978.7 1090.7L980.6 1091.3L982.6 1091.8L984.5 1092.3L986.4 1092.9L988.3 1093.5L990.2 1094.2L992.1 1094.9L994 1095.6L995.9 1096.4L997.7 1097.4L999.3 1098.4L1000.7 1099.7L1001.9 1101.3L1002.9 1103.1L1003.9 1104.9L1004.7 1106.8L1005.3 1108.9L1006 1110.9L1006.9 1112.3L1008.1 1113.3L1009.8 1114.1L1011.7 1114.8L1013.8 1115.5L1015.9 1116.1L1018 1116.7L1020 1117.3L1021.9 1117.8L1023.9 1118.3L1025.8 1118.7L1027.8 1119.2L1029.7 1119.6L1031.7 1120.1L1033.6 1120.6L1035.5 1121.2L1037.4 1121.7L1039.4 1122.3L1041.3 1122.9L1043.2 1123.5L1045.1 1124.1L1047 1124.7L1048.9 1125.2L1050.9 1125.7L1052.8 1126.3L1054.7 1126.8L1056.7 1127.4L1058.6 1127.9L1060.5 1128.4L1062.5 1128.9L1064.4 1129.3L1066.4 1129.8L1068.3 1130.1L1070.3 1130.5L1072.3 1130.9L1074.2 1131.2L1076.2 1131.5L1078.2 1131.8L1080.2 1132L1082.2 1132.2L1084.2 1132.3L1086.2 1132.4L1088.2 1132.5L1090.2 1132.6L1092.2 1132.6L1094.2 1132.7L1096.2 1132.8L1098.2 1132.9L1100.2 1133L1102.2 1133.2L1104.2 1133.3L1106.2 1133.5L1108.2 1133.7L1110.1 1134L1112.1 1134.3L1114.1 1134.6L1116.1 1135L1118 1135.5L1120 1135.9L1121.9 1136.4L1123.8 1136.9L1125.8 1137.4L1127.6 1138.1L1129.5 1138.8L1131.4 1139.5L1133.2 1140.3L1135.1 1141L1137 1141.8L1138.8 1142.5L1140.7 1143.3L1142.5 1144.1L1144.4 1144.8L1146.2 1145.6L1148.1 1146.4L1149.9 1147.1L1151.8 1147.8L1153.7 1148.4L1155.6 1149L1157.5 1149.6L1159.5 1150.2L1161.4 1150.7L1163.3 1151.3L1165.2 1151.8L1167.2 1152.4L1169.1 1152.9L1171 1153.4L1173 1153.9L1174.9 1154.4L1176.9 1154.8L1178.8 1155.3L1180.7 1155.8L1182.7 1156.3L1184.6 1156.8L1186.6 1157.3L1188.5 1157.8L1190.4 1158.2L1192.4 1158.7L1194.3 1159.2L1196.3 1159.7L1198.2 1160.1L1200.2 1160.6L1202.1 1161.1L1204.1 1161.6L1206 1162.1L1207.9 1162.6L1209.9 1163.1L1211.8 1163.7L1213.7 1164.3L1215.6 1165L1217.4 1165.8L1219.1 1166.8L1220.7 1168L1222.3 1169.3L1223.9 1170.5L1225.3 1172L1226.6 1173.6L1228 1175L1229.5 1176.1L1231.3 1177L1233.2 1177.8L1235.1 1178.4L1237 1179L1239 1179.4L1240.9 1179.9L1242.9 1180.2L1244.9 1180.6L1246.9 1180.9L1248.8 1181.3L1250.8 1181.7L1252.8 1182.1L1254.7 1182.4L1256.7 1182.8L1258.7 1183.2L1260.6 1183.6L1262.6 1184L1264.5 1184.4L1266.5 1184.9L1268.4 1185.4L1270.3 1186L1272.2 1186.6L1274.2 1187.1L1276.1 1187.7L1278 1188.3L1279.9 1188.9L1281.8 1189.5L1283.8 1190L1285.7 1190.5L1287.6 1191L1289.6 1191.6L1291.5 1192.1L1293.4 1192.6L1295.4 1193.1L1297.3 1193.6L1299.2 1194.2L1301.1 1194.7L1303.1 1195.3L1305 1195.8L1306.9 1196.4L1308.8 1196.9L1310.7 1197.5L1312.7 1198.1L1314.5 1198.8L1316.4 1199.5L1318.3 1200.2L1320.2 1200.9L1322 1201.7L1323.9 1202.4L1325.7 1203.2L1327.6 1204L1329.4 1204.8L1331.2 1205.6L1333 1206.4L1334.9 1207.3L1336.7 1208.1L1338.5 1208.9L1340.4 1209.6L1342.2 1210.3L1344.1 1211L1346.1 1211.6L1348 1212.2L1349.9 1212.8L1351.8 1213.5L1353.6 1214.2L1355.4 1215L1357.2 1215.9L1359 1216.9L1360.7 1217.9L1362.4 1218.9L1364.1 1220L1365.8 1221.1L1367.4 1222.3L1368.9 1223.6L1370.5 1225L1372 1226.3L1373.6 1227.5L1375.3 1228.5L1377 1229.4L1378.8 1230.1L1380.7 1230.9L1382.6 1231.6L1384.5 1232.2L1386.4 1232.9L1388.3 1233.7L1390.1 1234.4L1392 1235.2L1393.9 1235.9L1395.8 1236.7L1397.6 1237.5L1399.4 1238.3L1401.2 1239.2L1402.9 1240.2L1404.5 1241.3L1406 1242.6L1407.5 1244L1409 1245.4L1410.5 1246.8L1412 1248.1L1413.6 1249.2L1415.3 1250.2L1417.1 1251.1L1418.9 1252L1420.7 1252.9L1422.6 1253.7L1424.5 1254.4L1426.3 1255.1L1428.2 1255.7L1430.1 1256.3L1432.1 1256.9L1434 1257.4L1435.9 1257.9L1437.9 1258.4L1439.8 1258.9L1441.8 1259.5L1443.8 1260.1L1445.8 1260.6L1447.8 1261L1449.7 1261.3L1451.5 1261.2L1453.2 1260.4L1454.9 1259L1456.6 1257.6L1458.3 1256.6L1460.2 1256.3L1462.1 1256.1L1464.1 1256L1466.2 1255.9L1468.2 1255.8L1470.2 1255.7L1472.3 1255.7L1474.2 1255.8L1476.1 1256.3L1478 1257L1480 1257.7L1481.9 1258.2L1483.8 1258.7L1485.8 1259.2L1487.7 1259.7L1489.7 1260.2L1491.6 1260.6L1493.5 1261.1L1495.5 1261.6L1497.4 1262.1L1499.4 1262.6L1501.3 1263.1L1503.2 1263.6L1505.2 1264.1L1507.1 1264.6L1509.1 1265.1L1511 1265.5L1513 1266L1514.9 1266.4L1516.9 1266.8L1518.8 1267.3L1520.8 1267.7L1522.7 1268.2L1524.6 1268.7L1526.6 1269.2L1528.5 1269.7L1530.5 1270.2L1532.4 1270.7L1534.3 1271.3L1536.2 1271.8L1538.2 1272.4L1540.1 1273.1L1542 1273.7L1543.9 1274.4L1545.8 1275.2L1547.5 1276L1549.2 1277.1L1550.8 1278.3L1552.3 1279.7L1553.7 1281.2L1554.8 1282.8L1555.6 1284.7L1556.3 1286.8L1557.2 1288.4L1558.4 1289.5L1560.1 1290.5L1562 1291.3L1564.1 1292L1566.1 1292.6L1568.1 1293.1L1570 1293.6L1572 1293.9L1574 1294.3L1575.9 1294.6L1577.9 1294.9L1579.9 1295.3L1581.9 1295.7L1583.9 1296.1L1585.8 1296.5L1587.8 1296.7L1589.8 1296.8L1591.7 1296.5L1593.7 1295.9L1595.6 1295.2L1597.5 1294.6L1599.5 1294.3L1601.5 1294.3L1603.5 1294.3L1605.5 1294.3L1607.5 1294.3L1609.5 1294.3L1611.5 1294.3L1613.5 1294.3L1615.5 1294.4L1617.5 1294.6L1619.4 1295L1621.4 1295.4L1623.4 1295.9L1625.3 1296.5L1627.2 1297L1629.1 1297.7L1631 1298.5L1632.8 1299.2L1634.7 1299.8L1636.7 1300.2L1638.6 1300.6L1640.6 1300.9L1642.6 1301.3L1644.6 1301.5L1646.6 1301.8L1648.6 1302.1L1650.6 1302.3L1652.5 1302.5L1654.5 1302.7L1656.5 1302.8L1658.5 1303L1660.5 1303.2L1662.5 1303.4L1664.5 1303.7L1666.5 1304L1668.4 1304.3L1670.4 1304.6L1672.4 1304.9L1674.4 1305.3L1676.3 1305.6L1678.3 1306L1680.3 1306.4L1682.2 1306.8L1684.2 1307.2L1686.1 1307.7L1688.1 1308.2L1690 1308.7L1691.9 1309.2L1693.8 1309.9L1695.7 1310.5L1697.6 1311.2L1699.5 1311.9L1701.4 1312.6L1703.2 1313.3L1705.1 1313.9L1707.1 1314.5L1709 1315.1L1710.9 1315.6L1712.8 1316.2L1714.7 1316.8L1716.7 1317.3L1718.6 1317.9L1720.5 1318.5L1722.4 1319.1L1724.3 1319.7L1726.2 1320.3L1728.1 1320.9L1730.1 1321.4L1732 1321.9L1733.9 1322.4L1735.9 1322.9L1737.8 1323.3L1739.8 1323.8L1741.8 1324.2L1743.7 1324.5L1745.7 1324.8L1747.7 1325.1L1749.7 1325.4L1751.7 1325.6L1753.7 1325.8L1755.6 1325.8L1757.6 1325.5L1759.6 1325.3L1761.6 1325.3L1763.6 1325.3L1765.6 1325.3L1767.6 1325.4L1769.6 1325.4L1771.6 1325.5L1773.6 1325.6L1775.6 1325.7L1777.6 1325.9L1779.6 1326.3L1781.6 1326.7L1783.5 1327.2L1785.4 1327.7L1787.4 1328.2L1789.4 1328.8L1791.3 1329.4L1793.2 1330.1L1794.9 1331L1796.6 1332L1798.3 1333.3L1799.7 1334.9L1800.8 1336.5L1801.3 1338.4L1801.6 1340.6L1801.9 1342.6L1802.5 1344.1L1803.8 1345.2L1805.8 1346.1L1808 1346.9L1809.9 1347.5L1811.8 1348L1813.8 1348.5L1815.7 1348.9L1817.7 1349.2L1819.7 1349.6L1821.7 1349.9L1823.7 1350.1L1825.7 1350.4L1827.7 1350.7L1829.7 1351L1831.7 1351.3L1833.7 1351.4L1835.6 1351.5L1837.6 1351.2L1839.5 1350.5L1841.3 1349.5L1843.2 1348.8L1845.2 1348.7L1847.1 1348.7L1849.1 1348.7L1851.2 1348.7L1853.2 1348.7L1855.2 1348.7L1857.2 1348.7L1859.2 1348.7L1861.1 1348.9L1863.1 1349.4L1865 1349.9L1867 1350.5L1868.9 1351.2L1870.8 1351.7L1872.8 1352.1L1874.8 1352.5L1876.8 1352.8L1878.7 1353.1L1880.7 1353.4L1882.7 1353.6L1884.7 1353.8L1886.7 1353.8L1888.7 1353.6L1890.6 1353.2L1892.6 1352.7L1894.6 1352.2L1896.5 1351.8L1898.5 1351.5L1900.5 1351.5L1902.5 1351.6L1904.5 1351.8L1906.5 1352.1L1908.5 1352.4L1910.5 1352.8L1912.4 1353.1L1914.4 1353.5L1916.4 1354L1918.3 1354.5L1920.2 1355.1L1922.1 1355.8L1923.9 1356.6L1925.8 1357.5L1927.7 1358.6L1929.3 1359.8L1930.6 1361.1L1931.4 1362.8L1932 1365L1932.5 1367L1933.4 1368.6L1934.7 1369.5L1936.6 1370.4L1938.7 1371L1940.8 1371.7L1942.7 1372.3L1944.6 1372.8L1946.5 1373.3L1948.5 1373.7L1950.4 1374.2L1952.4 1374.6L1954.3 1375.1L1956.3 1375.6L1958.2 1376.1L1960.2 1376.6L1962.1 1377L1964.1 1377.5L1966 1378L1967.9 1378.6L1969.9 1379.1L1971.8 1379.6L1973.7 1380.2L1975.6 1380.8L1977.5 1381.5L1979.4 1382.3L1981.3 1383.2L1983.1 1384.2L1984.7 1385.3L1986 1386.6L1987 1388.3L1987.8 1390.2L1988.7 1392.1L1989.8 1393.6L1991.2 1395L1992.9 1396.2L1994.6 1397.3L1996.5 1398.3L1998.3 1399L2000.1 1399.6L2002.1 1400.1L2004 1400.5L2006 1400.9L2008 1401.3L2010 1401.8L2011.9 1402.2L2013.9 1402.7L2015.8 1403.2L2017.8 1403.6L2019.7 1404.1L2021.7 1404.6L2023.6 1405.2L2025.5 1405.8L2027.4 1406.5L2029.3 1407.3L2031.1 1408.1L2032.8 1409.1L2034.3 1410.3L2035.8 1411.7L2037.1 1413.2L2038.3 1414.9L2039.2 1416.7L2040 1418.6L2041.1 1420.1L2042.6 1421.3L2044.3 1422.3L2046.2 1423.3L2048.1 1424.2L2050 1424.9L2051.9 1425.5L2053.8 1426L2055.7 1426.5L2057.7 1426.9L2059.7 1427.4L2061.7 1427.8L2063.6 1428.3L2065.5 1428.8L2067.5 1429.3L2069.4 1429.7L2071.4 1430.2L2073.3 1430.7L2075.2 1431.2L2077.2 1431.7L2079.1 1432.2L2081.1 1432.7L2083 1433.2" stroke="#00f" stroke-width="12.7"/>
<path d="M243 851.8L277.2 857.7M304.5 866.7L340 873.8M369 877.7L404.1 881.9M423 873.5L425.9 875L428.8 876.5L431.6 878L434.5 879.5L437.4 881L440.3 882.5L443.2 883.9L446.1 885.3L449.1 886.8L452 888.2L454.9 889.6M464.1 891.4L498.1 896.2M527.3 899.8L530.2 900.6L533.2 901.4L536.1 902.2L539 903L541.9 903.9L544.7 904.9L547.6 905.9L550.4 907L553.3 908.1L556.1 909.2L558.9 910.3M588.8 918.7L622 923.6M652.2 927.8L685.1 932M713.2 944L745 951M775.8 955.1L811.2 954.4M839.9 960.7L902.1 973M931.1 978.2L965 982M993.9 992.2L1025.8 1002.8M1054.7 1006.3L1089.8 1011.6M1119 1015.8L1152.2 1021.7M1179.6 1030.4L1216 1031.8M1246.2 1035.7L1305.8 1047M1333 1053.5L1367 1058.8M1396.8 1065.4L1399.9 1066.1L1403 1066.8L1406 1067.5L1409 1068.4L1411.9 1069.5L1414.8 1070.7L1417.6 1072.1L1420.3 1073.6L1423 1075.3L1425.6 1077L1428.3 1078.7M1456.4 1084.3L1490.2 1090M1518.8 1094.2L1521.8 1095.3L1524.8 1096.5L1527.8 1097.7L1530.8 1098.9L1533.7 1100.3L1536.6 1101.7L1539.4 1103.2L1542.2 1104.8L1544.9 1106.5L1547.7 1108.2L1550.4 1109.9M1580.1 1114.3L1613 1118.5M1635.7 1111.5L1670.1 1114.5M1677.1 1115.7L1710.1 1119.9M1740.9 1123.9L1753.5 1123.9L1762 1118.3L1773.2 1118.3M1803.3 1122L1838.1 1126.5M1864.9 1139.2L1897.1 1145.6M1926.6 1150.5L1929.9 1151L1933.1 1151.6L1936.2 1152.4L1939.3 1153.4L1942.1 1154.8L1944.8 1156.5L1947.4 1158.4L1949.8 1160.6L1952.2 1162.8L1954.6 1165.2M1986.9 1170.1L2019.9 1174.3M2045.8 1188.3L2083 1193.6" stroke="#f00" stroke-width="12.7"/>
</g>
</g>
<g shape-rendering="crispEdges"><rect x="1542" y="51" width="512" height="162" fill="#fff"/><g fill="#000"><rect x="1542" y="51" width="512" height="4"/><rect x="1542" y="209" width="512" height="4"/><rect x="1542" y="51" width="3" height="162"/><rect x="2051" y="51" width="3" height="162"/></g><rect x="1577" y="90" width="170" height="12" fill="#00f"/><rect x="1577" y="160" width="35" height="13" fill="#f00"/><rect x="1644" y="160" width="35" height="13" fill="#f00"/><rect x="1712" y="160" width="35" height="13" fill="#f00"/></g>
<text transform="translate(1765.00 118.00) scale(1 1.035)">Primary</text>
<text transform="translate(1765.00 188.00) scale(1 1.035)">Secondary</text>
<g shape-rendering="crispEdges"><rect x="1542" y="878" width="512" height="161" fill="#fff"/><g fill="#000"><rect x="1542" y="878" width="512" height="3"/><rect x="1542" y="1036" width="512" height="3"/><rect x="1542" y="878" width="3" height="161"/><rect x="2051" y="878" width="3" height="161"/></g><rect x="1577" y="917" width="170" height="12" fill="#00f"/><rect x="1577" y="987" width="35" height="13" fill="#f00"/><rect x="1644" y="987" width="35" height="13" fill="#f00"/><rect x="1712" y="987" width="35" height="13" fill="#f00"/></g>
<text transform="translate(1765.00 945.00) scale(1 1.035)">Primary</text>
<text transform="translate(1765.00 1015.00) scale(1 1.035)">Secondary</text>
</svg>
</body></html>
